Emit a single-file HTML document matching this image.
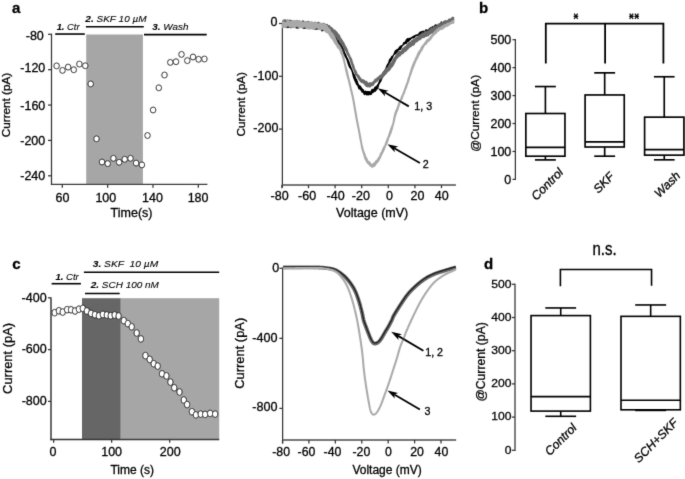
<!DOCTYPE html>
<html><head><meta charset="utf-8"><style>html,body{margin:0;padding:0;background:#fff;width:685px;height:479px;overflow:hidden;position:relative;font-family:'Liberation Sans', sans-serif} svg text{font-family:'Liberation Sans', sans-serif;stroke:#000;stroke-width:0.3px}</style></head>
<body>
<svg width="685" height="479" viewBox="0 0 685 479" style="position:absolute;left:0;top:0;filter:grayscale(1)">
<defs><filter id="sb" filterUnits="userSpaceOnUse" x="0" y="0" width="685" height="479"><feConvolveMatrix order="3" kernelMatrix="0.01134 0.08382 0.01134 0.08382 0.61935 0.08382 0.01134 0.08382 0.01134" edgeMode="duplicate" preserveAlpha="false"/></filter></defs>
<rect width="685" height="479" fill="#fff"/>
<g filter="url(#sb)">
<text transform="translate(11.96,13.26)" font-size="15" font-weight="bold" font-style="normal" xml:space="preserve">a</text>
<rect x="86.20" y="34.50" width="56.70" height="149.80" fill="#a6a6a6"/>
<line x1="51.50" y1="33.70" x2="51.50" y2="185.10" stroke="#333" stroke-width="1.25"/>
<line x1="50.90" y1="184.40" x2="207.40" y2="184.40" stroke="#3a3a3a" stroke-width="1.4"/>
<line x1="48.00" y1="34.30" x2="51.50" y2="34.30" stroke="#333" stroke-width="1.25"/>
<line x1="48.00" y1="69.68" x2="51.50" y2="69.68" stroke="#333" stroke-width="1.25"/>
<line x1="48.00" y1="105.05" x2="51.50" y2="105.05" stroke="#333" stroke-width="1.25"/>
<line x1="48.00" y1="140.43" x2="51.50" y2="140.43" stroke="#333" stroke-width="1.25"/>
<line x1="48.00" y1="175.80" x2="51.50" y2="175.80" stroke="#333" stroke-width="1.25"/>
<text transform="translate(25.72,39.50)" font-size="12.5" font-weight="normal" font-style="normal" xml:space="preserve">-80</text>
<text transform="translate(20.30,72.45)" font-size="12.5" font-weight="normal" font-style="normal" xml:space="preserve">-120</text>
<text transform="translate(20.30,109.90)" font-size="12.5" font-weight="normal" font-style="normal" xml:space="preserve">-160</text>
<text transform="translate(20.25,144.90)" font-size="12.5" font-weight="normal" font-style="normal" xml:space="preserve">-200</text>
<text transform="translate(20.25,180.45)" font-size="12.5" font-weight="normal" font-style="normal" xml:space="preserve">-240</text>
<line x1="62.30" y1="184.40" x2="62.30" y2="187.70" stroke="#333" stroke-width="1.25"/>
<line x1="107.63" y1="184.40" x2="107.63" y2="187.70" stroke="#333" stroke-width="1.25"/>
<line x1="152.96" y1="184.40" x2="152.96" y2="187.70" stroke="#333" stroke-width="1.25"/>
<line x1="198.30" y1="184.40" x2="198.30" y2="187.70" stroke="#333" stroke-width="1.25"/>
<text transform="translate(55.48,201.70)" font-size="12.5" font-weight="normal" font-style="normal" xml:space="preserve">60</text>
<text transform="translate(95.39,201.70)" font-size="12.5" font-weight="normal" font-style="normal" xml:space="preserve">100</text>
<text transform="translate(142.04,201.70)" font-size="12.5" font-weight="normal" font-style="normal" xml:space="preserve">140</text>
<text transform="translate(187.64,201.70)" font-size="12.5" font-weight="normal" font-style="normal" xml:space="preserve">180</text>
<text transform="translate(110.61,217.43)" font-size="12.5" font-weight="normal" font-style="normal" xml:space="preserve">Time(s)</text>
<text transform="translate(10.38,137.20) rotate(-90)" font-size="11.7" font-weight="normal" font-style="normal" xml:space="preserve">Current (pA)</text>
<line x1="55.20" y1="34.05" x2="84.80" y2="34.05" stroke="#000" stroke-width="1.6"/>
<line x1="85.90" y1="26.70" x2="143.80" y2="26.70" stroke="#000" stroke-width="1.6"/>
<line x1="144.00" y1="34.60" x2="206.70" y2="34.60" stroke="#000" stroke-width="1.6"/>
<text transform="translate(56.63,29.59) scale(1.08,1.0)" font-size="8.7" font-weight="normal" font-style="italic" xml:space="preserve" style="stroke-width:0.1px"><tspan font-weight="bold">1.</tspan> Ctr</text>
<text transform="translate(85.36,21.85) scale(1.09,1.0)" font-size="9.2" font-weight="normal" font-style="italic" xml:space="preserve" style="stroke-width:0.1px"><tspan font-weight="bold">2.</tspan> SKF 10 µM</text>
<text transform="translate(152.30,29.70) scale(1.09,1.0)" font-size="9.1" font-weight="normal" font-style="italic" xml:space="preserve" style="stroke-width:0.1px"><tspan font-weight="bold">3.</tspan> Wash</text>
<ellipse cx="56.60" cy="65.90" rx="2.75" ry="2.95" fill="#fff" stroke="#111" stroke-width="0.95"/>
<ellipse cx="62.50" cy="70.40" rx="2.75" ry="2.95" fill="#fff" stroke="#111" stroke-width="0.95"/>
<ellipse cx="68.10" cy="67.10" rx="2.75" ry="2.95" fill="#fff" stroke="#111" stroke-width="0.95"/>
<ellipse cx="73.75" cy="69.75" rx="2.75" ry="2.95" fill="#fff" stroke="#111" stroke-width="0.95"/>
<ellipse cx="79.40" cy="64.10" rx="2.75" ry="2.95" fill="#fff" stroke="#111" stroke-width="0.95"/>
<ellipse cx="85.25" cy="65.75" rx="2.75" ry="2.95" fill="#fff" stroke="#111" stroke-width="0.95"/>
<ellipse cx="90.70" cy="83.90" rx="2.75" ry="2.95" fill="#fff" stroke="#111" stroke-width="0.95"/>
<ellipse cx="96.50" cy="138.80" rx="2.75" ry="2.95" fill="#fff" stroke="#111" stroke-width="0.95"/>
<ellipse cx="102.00" cy="162.00" rx="2.75" ry="2.95" fill="#fff" stroke="#111" stroke-width="0.95"/>
<ellipse cx="107.70" cy="163.60" rx="2.75" ry="2.95" fill="#fff" stroke="#111" stroke-width="0.95"/>
<ellipse cx="113.40" cy="158.30" rx="2.75" ry="2.95" fill="#fff" stroke="#111" stroke-width="0.95"/>
<ellipse cx="119.10" cy="162.30" rx="2.75" ry="2.95" fill="#fff" stroke="#111" stroke-width="0.95"/>
<ellipse cx="124.70" cy="159.30" rx="2.75" ry="2.95" fill="#fff" stroke="#111" stroke-width="0.95"/>
<ellipse cx="130.50" cy="158.30" rx="2.75" ry="2.95" fill="#fff" stroke="#111" stroke-width="0.95"/>
<ellipse cx="136.10" cy="163.10" rx="2.75" ry="2.95" fill="#fff" stroke="#111" stroke-width="0.95"/>
<ellipse cx="141.90" cy="164.90" rx="2.75" ry="2.95" fill="#fff" stroke="#111" stroke-width="0.95"/>
<ellipse cx="147.50" cy="135.50" rx="2.75" ry="2.95" fill="#fff" stroke="#111" stroke-width="0.95"/>
<ellipse cx="153.10" cy="110.00" rx="2.75" ry="2.95" fill="#fff" stroke="#111" stroke-width="0.95"/>
<ellipse cx="158.80" cy="87.80" rx="2.75" ry="2.95" fill="#fff" stroke="#111" stroke-width="0.95"/>
<ellipse cx="164.50" cy="75.00" rx="2.75" ry="2.95" fill="#fff" stroke="#111" stroke-width="0.95"/>
<ellipse cx="170.30" cy="62.40" rx="2.75" ry="2.95" fill="#fff" stroke="#111" stroke-width="0.95"/>
<ellipse cx="176.00" cy="61.70" rx="2.75" ry="2.95" fill="#fff" stroke="#111" stroke-width="0.95"/>
<ellipse cx="181.50" cy="54.40" rx="2.75" ry="2.95" fill="#fff" stroke="#111" stroke-width="0.95"/>
<ellipse cx="187.30" cy="60.60" rx="2.75" ry="2.95" fill="#fff" stroke="#111" stroke-width="0.95"/>
<ellipse cx="193.00" cy="57.00" rx="2.75" ry="2.95" fill="#fff" stroke="#111" stroke-width="0.95"/>
<ellipse cx="198.60" cy="59.30" rx="2.75" ry="2.95" fill="#fff" stroke="#111" stroke-width="0.95"/>
<ellipse cx="204.40" cy="59.00" rx="2.75" ry="2.95" fill="#fff" stroke="#111" stroke-width="0.95"/>
<line x1="282.40" y1="22.90" x2="282.40" y2="187.60" stroke="#333" stroke-width="1.25"/>
<line x1="281.80" y1="185.00" x2="455.90" y2="185.00" stroke="#4a4a4a" stroke-width="1.6"/>
<line x1="279.00" y1="23.50" x2="282.40" y2="23.50" stroke="#333" stroke-width="1.25"/>
<line x1="279.00" y1="76.30" x2="282.40" y2="76.30" stroke="#333" stroke-width="1.25"/>
<line x1="279.00" y1="129.10" x2="282.40" y2="129.10" stroke="#333" stroke-width="1.25"/>
<text transform="translate(270.62,25.60)" font-size="12.5" font-weight="normal" font-style="normal" xml:space="preserve">0</text>
<text transform="translate(253.35,80.05)" font-size="12.5" font-weight="normal" font-style="normal" xml:space="preserve">-100</text>
<text transform="translate(253.35,132.05)" font-size="12.5" font-weight="normal" font-style="normal" xml:space="preserve">-200</text>
<line x1="281.90" y1="185.00" x2="281.90" y2="188.20" stroke="#333" stroke-width="1.25"/>
<line x1="308.50" y1="185.00" x2="308.50" y2="188.20" stroke="#333" stroke-width="1.25"/>
<line x1="335.10" y1="185.00" x2="335.10" y2="188.20" stroke="#333" stroke-width="1.25"/>
<line x1="361.70" y1="185.00" x2="361.70" y2="188.20" stroke="#333" stroke-width="1.25"/>
<line x1="388.30" y1="185.00" x2="388.30" y2="188.20" stroke="#333" stroke-width="1.25"/>
<line x1="414.90" y1="185.00" x2="414.90" y2="188.20" stroke="#333" stroke-width="1.25"/>
<line x1="441.50" y1="185.00" x2="441.50" y2="188.20" stroke="#333" stroke-width="1.25"/>
<text transform="translate(270.62,200.30)" font-size="12.5" font-weight="normal" font-style="normal" xml:space="preserve">-80</text>
<text transform="translate(298.12,200.30)" font-size="12.5" font-weight="normal" font-style="normal" xml:space="preserve">-60</text>
<text transform="translate(326.52,200.30)" font-size="12.5" font-weight="normal" font-style="normal" xml:space="preserve">-40</text>
<text transform="translate(351.77,200.30)" font-size="12.5" font-weight="normal" font-style="normal" xml:space="preserve">-20</text>
<text transform="translate(386.07,200.30)" font-size="12.5" font-weight="normal" font-style="normal" xml:space="preserve">0</text>
<text transform="translate(410.43,200.30)" font-size="12.5" font-weight="normal" font-style="normal" xml:space="preserve">20</text>
<text transform="translate(434.71,200.30)" font-size="12.5" font-weight="normal" font-style="normal" xml:space="preserve">40</text>
<text transform="translate(336.03,216.68)" font-size="12.5" font-weight="normal" font-style="normal" xml:space="preserve">Voltage (mV)</text>
<text transform="translate(245.23,136.40) rotate(-90)" font-size="11.7" font-weight="normal" font-style="normal" xml:space="preserve">Current (pA)</text>
<path d="M283.00,21.19 L283.40,21.74 L283.80,22.29 L284.20,22.57 L284.60,22.07 L285.00,21.57 L285.40,21.62 L285.80,22.22 L286.20,22.82 L286.60,22.74 L287.00,22.42 L287.40,22.10 L287.80,22.23 L288.20,22.36 L288.60,22.49 L289.00,22.64 L289.40,22.79 L289.80,22.77 L290.20,22.60 L290.60,22.42 L291.00,22.26 L291.40,22.11 L291.80,21.95 L292.20,21.89 L292.60,21.82 L293.00,21.75 L293.40,21.69 L293.80,21.62 L294.20,21.86 L294.60,22.41 L295.00,22.95 L295.40,22.92 L295.80,22.71 L296.20,22.49 L296.60,22.28 L297.00,22.07 L297.40,22.07 L297.80,22.66 L298.20,23.26 L298.60,23.32 L299.00,22.86 L299.40,22.39 L299.80,22.38 L300.20,22.51 L300.60,22.64 L301.00,22.56 L301.40,22.49 L301.80,22.50 L302.20,22.78 L302.60,23.07 L303.00,23.20 L303.40,23.18 L303.80,23.15 L304.20,23.17 L304.60,23.21 L305.00,23.24 L305.40,22.99 L305.80,22.74 L306.20,22.56 L306.60,22.60 L307.00,22.63 L307.40,22.65 L307.80,22.65 L308.20,22.64 L308.60,22.71 L309.00,22.79 L309.40,22.88 L309.80,22.76 L310.20,22.64 L310.60,22.57 L311.00,22.61 L311.40,22.66 L311.80,23.02 L312.20,23.69 L312.60,24.36 L313.00,24.55 L313.40,24.57 L313.80,24.60 L314.20,24.02 L314.60,23.44 L315.00,22.98 L315.40,22.88 L315.80,22.79 L316.20,22.84 L316.60,23.02 L317.00,23.21 L317.40,23.59 L317.80,24.03 L318.20,24.48 L318.60,24.59 L319.00,24.71 L319.40,24.67 L319.80,24.13 L320.20,23.59 L320.60,23.57 L321.00,24.08 L321.40,24.59 L321.80,24.43 L322.20,24.03 L322.60,23.64 L323.00,24.13 L323.40,24.62 L323.80,25.03 L324.20,25.21 L324.60,25.41 L325.00,25.69 L325.40,26.07 L325.80,26.46 L326.20,26.21 L326.60,25.77 L327.00,25.33 L327.40,25.93 L327.80,26.54 L328.20,27.08 L328.60,27.36 L329.00,27.67 L329.40,27.99 L329.80,28.33 L330.20,28.72 L330.60,28.55 L331.00,28.22 L331.40,27.92 L331.80,28.75 L332.20,29.60 L332.60,30.47 L333.00,31.36 L333.40,32.28 L333.80,32.81 L334.20,32.93 L334.60,33.10 L335.00,33.90 L335.40,34.93 L335.80,35.97 L336.20,36.47 L336.60,36.96 L337.00,37.54 L337.40,38.42 L337.80,39.31 L338.20,40.00 L338.60,40.50 L339.00,41.01 L339.40,41.41 L339.80,41.80 L340.20,42.18 L340.60,42.99 L341.00,43.80 L341.40,44.61 L341.80,45.40 L342.20,46.20 L342.60,47.06 L343.00,47.96 L343.40,48.88 L343.80,50.16 L344.20,51.56 L344.60,52.97 L345.00,53.56 L345.40,54.16 L345.80,54.88 L346.20,55.92 L346.60,56.97 L347.00,57.86 L347.40,58.58 L347.80,59.30 L348.20,60.22 L348.60,61.21 L349.00,62.20 L349.40,63.28 L349.80,64.36 L350.20,65.43 L350.60,66.46 L351.00,67.51 L351.40,68.53 L351.80,69.52 L352.20,70.52 L352.60,71.53 L353.00,72.55 L353.40,73.59 L353.80,74.10 L354.20,74.60 L354.60,75.26 L355.00,76.47 L355.40,77.64 L355.80,78.56 L356.20,79.21 L356.60,79.83 L357.00,80.92 L357.40,82.14 L357.80,83.33 L358.20,84.26 L358.60,85.16 L359.00,85.81 L359.40,85.84 L359.80,85.83 L360.20,86.14 L360.60,86.78 L361.00,87.39 L361.40,87.99 L361.80,88.58 L362.20,89.15 L362.60,89.44 L363.00,89.69 L363.40,90.05 L363.80,90.77 L364.20,91.44 L364.60,91.67 L365.00,91.45 L365.40,91.20 L365.80,91.35 L366.20,91.63 L366.60,91.89 L367.00,91.79 L367.40,91.67 L367.80,91.58 L368.20,91.61 L368.60,91.62 L369.00,91.71 L369.40,91.89 L369.80,92.06 L370.20,92.00 L370.60,91.86 L371.00,91.70 L371.40,90.85 L371.80,89.98 L372.20,89.40 L372.60,89.74 L373.00,90.06 L373.40,89.89 L373.80,89.22 L374.20,88.55 L374.60,88.02 L375.00,87.52 L375.40,86.99 L375.80,86.85 L376.20,86.66 L376.60,86.37 L377.00,85.88 L377.40,85.29 L377.80,84.74 L378.20,84.24 L378.60,83.72 L379.00,82.58 L379.40,81.29 L379.80,80.04 L380.20,78.97 L380.60,77.91 L381.00,77.09 L381.40,76.98 L381.80,76.86 L382.20,76.09 L382.60,74.66 L383.00,73.22 L383.40,72.43 L383.80,71.86 L384.20,71.29 L384.60,70.71 L385.00,70.15 L385.40,69.93 L385.80,68.78 L386.20,67.62 L386.60,66.58 L387.00,65.65 L387.40,64.73 L387.80,64.10 L388.20,63.58 L388.60,63.08 L389.00,61.69 L389.40,60.32 L389.80,59.24 L390.20,58.97 L390.60,58.71 L391.00,58.20 L391.40,57.41 L391.80,56.64 L392.20,56.33 L392.60,56.18 L393.00,56.06 L393.40,55.34 L393.80,54.64 L394.20,53.85 L394.60,52.74 L395.00,51.66 L395.40,50.94 L395.80,50.60 L396.20,50.26 L396.60,50.01 L397.00,49.79 L397.40,49.57 L397.80,49.37 L398.20,49.19 L398.60,48.88 L399.00,48.20 L399.40,47.50 L399.80,46.95 L400.20,46.55 L400.60,46.12 L401.00,46.01 L401.40,45.99 L401.80,45.97 L402.20,45.53 L402.60,45.09 L403.00,44.55 L403.40,43.67 L403.80,42.80 L404.20,42.37 L404.60,42.36 L405.00,42.38 L405.40,41.78 L405.80,40.97 L406.20,40.17 L406.60,39.63 L407.00,39.10 L407.40,38.72 L407.80,38.77 L408.20,38.82 L408.60,38.76 L409.00,38.59 L409.40,38.42 L409.80,38.33 L410.20,38.26 L410.60,38.20 L411.00,38.02 L411.40,37.86 L411.80,37.64 L412.20,37.28 L412.60,36.93 L413.00,36.65 L413.40,36.46 L413.80,36.27 L414.20,36.06 L414.60,35.84 L415.00,35.63 L415.40,35.45 L415.80,35.28 L416.20,35.12 L416.60,35.01 L417.00,34.89 L417.40,34.84 L417.80,34.84 L418.20,34.84 L418.60,34.35 L419.00,33.70 L419.40,33.05 L419.80,32.65 L420.20,32.25 L420.60,31.95 L421.00,31.91 L421.40,31.88 L421.80,31.77 L422.20,31.60 L422.60,31.43 L423.00,31.36 L423.40,31.31 L423.80,31.27 L424.20,31.47 L424.60,31.67 L425.00,31.63 L425.40,30.88 L425.80,30.12 L426.20,29.83 L426.60,29.99 L427.00,30.16 L427.40,30.31 L427.80,30.45 L428.20,30.58 L428.60,29.98 L429.00,29.37 L429.40,28.83 L429.80,28.48 L430.20,28.12 L430.60,27.89 L431.00,27.81 L431.40,27.72 L431.80,27.42 L432.20,27.04 L432.60,26.66 L433.00,26.98 L433.40,27.31 L433.80,27.36 L434.20,26.61 L434.60,25.86 L435.00,25.38 L435.40,25.18 L435.80,24.98 L436.20,25.13 L436.60,25.40 L437.00,25.68 L437.40,25.46 L437.80,25.24 L438.20,24.99 L438.60,24.61 L439.00,24.24 L439.40,24.10 L439.80,24.18 L440.20,24.26 L440.60,23.64 L441.00,22.79 L441.40,21.94 L441.80,22.51 L442.20,23.07 L442.60,23.38 L443.00,22.92 L443.40,22.45 L443.80,22.03 L444.20,21.67 L444.60,21.31 L445.00,21.42 L445.40,21.70 L445.80,21.97 L446.20,21.70 L446.60,21.42 L447.00,21.25 L447.40,21.37 L447.80,21.49 L448.20,21.14 L448.60,20.30 L449.00,19.46 L449.40,19.44 L449.80,19.69 L450.20,19.94 L450.60,19.72 L451.00,19.51 L451.40,19.35 L451.80,19.36 L452.20,19.38 L452.60,19.16 L453.00,18.70 L453.40,18.25 L453.40,19.71 L453.00,20.61 L452.60,21.50 L452.20,21.91 L451.80,21.82 L451.40,21.73 L451.00,21.39 L450.60,20.95 L450.20,20.52 L449.80,20.81 L449.40,21.10 L449.00,21.38 L448.60,21.62 L448.20,21.85 L447.80,22.04 L447.40,22.20 L447.00,22.35 L446.60,22.48 L446.20,22.60 L445.80,22.72 L445.40,23.06 L445.00,23.39 L444.60,23.64 L444.20,23.67 L443.80,23.70 L443.40,23.62 L443.00,23.43 L442.60,23.24 L442.20,23.88 L441.80,24.80 L441.40,25.73 L441.00,25.86 L440.60,26.00 L440.20,26.05 L439.80,25.83 L439.40,25.62 L439.00,25.80 L438.60,26.38 L438.20,26.96 L437.80,26.94 L437.40,26.71 L437.00,26.49 L436.60,26.52 L436.20,26.56 L435.80,26.78 L435.40,27.57 L435.00,28.35 L434.60,28.81 L434.20,28.96 L433.80,29.11 L433.40,29.43 L433.00,29.80 L432.60,30.17 L432.20,29.77 L431.80,29.37 L431.40,29.13 L431.00,29.39 L430.60,29.64 L430.20,29.94 L429.80,30.31 L429.40,30.66 L429.00,30.73 L428.60,30.69 L428.20,30.65 L427.80,31.14 L427.40,31.63 L427.00,32.03 L426.60,32.17 L426.20,32.32 L425.80,32.62 L425.40,33.06 L425.00,33.51 L424.60,33.52 L424.20,33.38 L423.80,33.23 L423.40,33.10 L423.00,32.98 L422.60,32.97 L422.20,33.32 L421.80,33.68 L421.40,33.89 L421.00,33.95 L420.60,34.01 L420.20,34.25 L419.80,34.55 L419.40,34.85 L419.00,35.26 L418.60,35.66 L418.20,35.92 L417.80,35.72 L417.40,35.52 L417.00,35.47 L416.60,35.58 L416.20,35.68 L415.80,35.86 L415.40,36.06 L415.00,36.26 L414.60,36.91 L414.20,37.57 L413.80,38.02 L413.40,37.86 L413.00,37.71 L412.60,37.71 L412.20,37.87 L411.80,38.04 L411.40,38.35 L411.00,38.71 L410.60,39.08 L410.20,39.47 L409.80,39.87 L409.40,40.29 L409.00,40.74 L408.60,41.21 L408.20,41.47 L407.80,41.53 L407.40,41.61 L407.00,42.11 L406.60,42.76 L406.20,43.42 L405.80,43.43 L405.40,43.45 L405.00,43.53 L404.60,43.79 L404.20,44.07 L403.80,44.37 L403.40,44.69 L403.00,45.03 L402.60,45.44 L402.20,45.87 L401.80,46.31 L401.40,47.32 L401.00,48.33 L400.60,49.14 L400.20,49.34 L399.80,49.53 L399.40,49.64 L399.00,49.68 L398.60,49.72 L398.20,50.38 L397.80,51.26 L397.40,52.15 L397.00,52.49 L396.60,52.85 L396.20,53.20 L395.80,53.51 L395.40,53.84 L395.00,54.03 L394.60,54.09 L394.20,54.17 L393.80,54.74 L393.40,55.50 L393.00,56.27 L392.60,57.22 L392.20,58.18 L391.80,59.11 L391.40,59.89 L391.00,60.69 L390.60,61.33 L390.20,61.82 L389.80,62.33 L389.40,62.97 L389.00,63.67 L388.60,64.39 L388.20,65.38 L387.80,66.40 L387.40,67.27 L387.00,67.63 L386.60,68.00 L386.20,68.70 L385.80,69.71 L385.40,70.72 L385.00,72.40 L384.60,73.64 L384.20,74.89 L383.80,75.24 L383.40,75.60 L383.00,76.06 L382.60,76.84 L382.20,77.61 L381.80,78.51 L381.40,79.56 L381.00,80.59 L380.60,81.31 L380.20,81.92 L379.80,82.54 L379.40,83.20 L379.00,83.90 L378.60,84.83 L378.20,86.28 L377.80,87.71 L377.40,88.58 L377.00,88.87 L376.60,89.06 L376.20,89.71 L375.80,90.48 L375.40,91.21 L375.00,91.21 L374.60,91.19 L374.20,91.27 L373.80,91.67 L373.40,92.06 L373.00,92.35 L372.60,92.52 L372.20,92.67 L371.80,93.22 L371.40,93.89 L371.00,94.53 L370.60,94.41 L370.20,94.27 L369.80,94.22 L369.40,94.47 L369.00,94.71 L368.60,94.79 L368.20,94.70 L367.80,94.60 L367.40,94.68 L367.00,94.80 L366.60,94.91 L366.20,94.42 L365.80,93.91 L365.40,93.63 L365.00,94.07 L364.60,94.48 L364.20,94.23 L363.80,93.32 L363.40,92.37 L363.00,92.13 L362.60,92.10 L362.20,92.04 L361.80,91.42 L361.40,90.77 L361.00,90.15 L360.60,89.68 L360.20,89.18 L359.80,88.89 L359.40,88.80 L359.00,88.67 L358.60,87.74 L358.20,86.51 L357.80,85.24 L357.40,84.96 L357.00,84.64 L356.60,84.16 L356.20,83.27 L355.80,82.35 L355.40,81.47 L355.00,80.64 L354.60,79.77 L354.20,78.77 L353.80,77.70 L353.40,76.62 L353.00,74.87 L352.60,73.13 L352.20,71.59 L351.80,70.62 L351.40,69.67 L351.00,68.95 L350.60,68.46 L350.20,67.99 L349.80,67.32 L349.40,66.58 L349.00,65.85 L348.60,64.67 L348.20,63.50 L347.80,62.30 L347.40,61.03 L347.00,59.76 L346.60,58.83 L346.20,58.23 L345.80,57.64 L345.40,56.94 L345.00,56.21 L344.60,55.49 L344.20,54.57 L343.80,53.65 L343.40,52.83 L343.00,52.24 L342.60,51.66 L342.20,51.06 L341.80,50.44 L341.40,49.83 L341.00,48.69 L340.60,47.37 L340.20,46.05 L339.80,45.71 L339.40,45.36 L339.00,44.97 L338.60,44.39 L338.20,43.81 L337.80,43.11 L337.40,42.28 L337.00,41.47 L336.60,40.62 L336.20,39.76 L335.80,38.88 L335.40,38.15 L335.00,37.43 L334.60,36.71 L334.20,35.93 L333.80,35.20 L333.40,34.63 L333.00,34.24 L332.60,33.87 L332.20,33.34 L331.80,32.78 L331.40,32.23 L331.00,32.10 L330.60,31.99 L330.20,31.79 L329.80,31.25 L329.40,30.72 L329.00,30.40 L328.60,30.29 L328.20,30.21 L327.80,30.08 L327.40,29.95 L327.00,29.84 L326.60,29.93 L326.20,30.04 L325.80,30.13 L325.40,30.15 L325.00,30.19 L324.60,29.99 L324.20,29.56 L323.80,29.14 L323.40,29.12 L323.00,29.24 L322.60,29.37 L322.20,29.29 L321.80,29.20 L321.40,29.13 L321.00,29.09 L320.60,29.04 L320.20,29.03 L319.80,29.06 L319.40,29.08 L319.00,28.99 L318.60,28.87 L318.20,28.75 L317.80,28.63 L317.40,28.50 L317.00,28.40 L316.60,28.37 L316.20,28.34 L315.80,28.48 L315.40,28.79 L315.00,29.10 L314.60,28.92 L314.20,28.56 L313.80,28.21 L313.40,28.24 L313.00,28.27 L312.60,28.22 L312.20,27.90 L311.80,27.58 L311.40,27.33 L311.00,27.16 L310.60,26.98 L310.20,27.01 L309.80,27.12 L309.40,27.22 L309.00,27.06 L308.60,26.90 L308.20,26.80 L307.80,26.88 L307.40,26.97 L307.00,27.11 L306.60,27.31 L306.20,27.51 L305.80,27.51 L305.40,27.44 L305.00,27.37 L304.60,27.26 L304.20,27.16 L303.80,27.06 L303.40,27.01 L303.00,26.95 L302.60,26.96 L302.20,27.03 L301.80,27.09 L301.40,27.10 L301.00,27.08 L300.60,27.07 L300.20,26.88 L299.80,26.70 L299.40,26.71 L299.00,27.31 L298.60,27.91 L298.20,28.10 L297.80,27.89 L297.40,27.68 L297.00,27.61 L296.60,27.59 L296.20,27.56 L295.80,27.43 L295.40,27.29 L295.00,27.11 L294.60,26.78 L294.20,26.44 L293.80,26.38 L293.40,26.59 L293.00,26.80 L292.60,27.01 L292.20,27.22 L291.80,27.44 L291.40,27.55 L291.00,27.67 L290.60,27.66 L290.20,27.29 L289.80,26.92 L289.40,26.77 L289.00,26.82 L288.60,26.88 L288.20,26.75 L287.80,26.55 L287.40,26.35 L287.00,26.36 L286.60,26.36 L286.20,26.44 L285.80,26.76 L285.40,27.07 L285.00,27.00 L284.60,26.55 L284.20,26.10 L283.80,26.07 L283.40,26.18 L283.00,26.30 Z" fill="#000" stroke="#000" stroke-width="1.3" stroke-linejoin="round"/>
<path d="M283.00,20.98 L283.40,20.63 L283.80,20.29 L284.20,20.03 L284.60,20.06 L285.00,20.09 L285.40,20.25 L285.80,20.54 L286.20,20.84 L286.60,20.70 L287.00,20.43 L287.40,20.15 L287.80,20.28 L288.20,20.41 L288.60,20.50 L289.00,20.49 L289.40,20.49 L289.80,20.72 L290.20,21.18 L290.60,21.65 L291.00,21.53 L291.40,21.22 L291.80,20.91 L292.20,20.80 L292.60,20.69 L293.00,20.73 L293.40,21.17 L293.80,21.62 L294.20,21.86 L294.60,21.89 L295.00,21.93 L295.40,21.84 L295.80,21.69 L296.20,21.55 L296.60,21.19 L297.00,20.84 L297.40,20.70 L297.80,21.21 L298.20,21.73 L298.60,21.86 L299.00,21.59 L299.40,21.32 L299.80,21.45 L300.20,21.70 L300.60,21.96 L301.00,21.95 L301.40,21.94 L301.80,21.94 L302.20,21.93 L302.60,21.92 L303.00,21.98 L303.40,22.09 L303.80,22.21 L304.20,22.29 L304.60,22.36 L305.00,22.43 L305.40,22.24 L305.80,22.06 L306.20,21.93 L306.60,21.99 L307.00,22.05 L307.40,21.97 L307.80,21.76 L308.20,21.55 L308.60,21.67 L309.00,21.89 L309.40,22.11 L309.80,22.48 L310.20,22.86 L310.60,23.04 L311.00,22.64 L311.40,22.24 L311.80,22.23 L312.20,22.61 L312.60,22.99 L313.00,23.14 L313.40,23.21 L313.80,23.28 L314.20,22.91 L314.60,22.55 L315.00,22.37 L315.40,22.78 L315.80,23.19 L316.20,23.37 L316.60,23.34 L317.00,23.31 L317.40,23.49 L317.80,23.75 L318.20,24.00 L318.60,23.67 L319.00,23.34 L319.40,23.16 L319.80,23.47 L320.20,23.78 L320.60,23.99 L321.00,24.12 L321.40,24.25 L321.80,24.11 L322.20,23.89 L322.60,23.66 L323.00,23.64 L323.40,23.63 L323.80,23.67 L324.20,23.85 L324.60,24.05 L325.00,24.29 L325.40,24.58 L325.80,24.88 L326.20,24.85 L326.60,24.71 L327.00,24.59 L327.40,25.12 L327.80,25.67 L328.20,26.04 L328.60,25.87 L329.00,25.72 L329.40,25.95 L329.80,26.56 L330.20,27.21 L330.60,27.46 L331.00,27.57 L331.40,27.67 L331.80,28.15 L332.20,28.59 L332.60,29.02 L333.00,29.53 L333.40,30.03 L333.80,30.28 L334.20,30.29 L334.60,30.34 L335.00,30.68 L335.40,31.15 L335.80,31.68 L336.20,31.97 L336.60,32.30 L337.00,32.72 L337.40,33.37 L337.80,34.03 L338.20,34.53 L338.60,34.87 L339.00,35.22 L339.40,36.00 L339.80,36.92 L340.20,37.85 L340.60,38.45 L341.00,39.06 L341.40,39.67 L341.80,40.25 L342.20,40.84 L342.60,41.45 L343.00,42.07 L343.40,42.70 L343.80,43.48 L344.20,44.30 L344.60,45.13 L345.00,45.83 L345.40,46.53 L345.80,47.27 L346.20,48.07 L346.60,48.88 L347.00,49.84 L347.40,50.94 L347.80,52.05 L348.20,53.00 L348.60,53.89 L349.00,54.81 L349.40,55.69 L349.80,56.59 L350.20,57.31 L350.60,57.90 L351.00,58.52 L351.40,59.52 L351.80,60.90 L352.20,62.35 L352.60,63.44 L353.00,64.42 L353.40,65.38 L353.80,66.78 L354.20,68.24 L354.60,69.48 L355.00,70.01 L355.40,70.39 L355.80,71.14 L356.20,72.28 L356.60,73.36 L357.00,73.99 L357.40,74.45 L357.80,74.89 L358.20,75.37 L358.60,75.82 L359.00,76.30 L359.40,76.91 L359.80,77.50 L360.20,78.01 L360.60,78.46 L361.00,78.89 L361.40,79.27 L361.80,79.62 L362.20,79.95 L362.60,79.96 L363.00,79.95 L363.40,80.02 L363.80,80.33 L364.20,80.64 L364.60,80.99 L365.00,81.40 L365.40,81.80 L365.80,81.82 L366.20,81.70 L366.60,81.57 L367.00,82.29 L367.40,82.97 L367.80,83.47 L368.20,83.43 L368.60,83.36 L369.00,83.28 L369.40,83.19 L369.80,83.06 L370.20,83.05 L370.60,83.06 L371.00,83.05 L371.40,83.08 L371.80,83.08 L372.20,82.97 L372.60,82.61 L373.00,82.23 L373.40,81.84 L373.80,81.44 L374.20,81.04 L374.60,80.48 L375.00,79.87 L375.40,79.24 L375.80,79.39 L376.20,79.54 L376.60,79.46 L377.00,78.71 L377.40,77.97 L377.80,77.59 L378.20,77.57 L378.60,77.56 L379.00,77.10 L379.40,76.49 L379.80,75.89 L380.20,75.66 L380.60,75.43 L381.00,75.21 L381.40,75.01 L381.80,74.80 L382.20,74.25 L382.60,73.38 L383.00,72.52 L383.40,72.18 L383.80,72.01 L384.20,71.83 L384.60,71.39 L385.00,70.93 L385.40,70.04 L385.80,69.52 L386.20,68.98 L386.60,68.57 L387.00,68.28 L387.40,67.98 L387.80,67.81 L388.20,67.68 L388.60,67.55 L389.00,66.60 L389.40,65.64 L389.80,64.76 L390.20,64.13 L390.60,63.49 L391.00,63.16 L391.40,63.14 L391.80,63.11 L392.20,62.43 L392.60,61.50 L393.00,60.55 L393.40,59.86 L393.80,59.15 L394.20,58.48 L394.60,57.93 L395.00,57.40 L395.40,56.86 L395.80,56.32 L396.20,55.82 L396.60,55.01 L397.00,54.13 L397.40,53.30 L397.80,52.87 L398.20,52.48 L398.60,52.14 L399.00,51.95 L399.40,51.77 L399.80,51.67 L400.20,51.63 L400.60,51.59 L401.00,51.38 L401.40,51.09 L401.80,50.78 L402.20,49.92 L402.60,49.06 L403.00,48.40 L403.40,48.34 L403.80,48.28 L404.20,47.98 L404.60,47.43 L405.00,46.89 L405.40,46.69 L405.80,46.60 L406.20,46.52 L406.60,45.79 L407.00,45.06 L407.40,44.44 L407.80,44.10 L408.20,43.77 L408.60,43.37 L409.00,42.91 L409.40,42.45 L409.80,42.53 L410.20,42.80 L410.60,43.06 L411.00,42.31 L411.40,41.55 L411.80,40.94 L412.20,40.73 L412.60,40.52 L413.00,40.27 L413.40,39.98 L413.80,39.68 L414.20,39.73 L414.60,39.90 L415.00,40.06 L415.40,39.23 L415.80,38.39 L416.20,37.73 L416.60,37.61 L417.00,37.48 L417.40,37.39 L417.80,37.32 L418.20,37.25 L418.60,36.77 L419.00,36.15 L419.40,35.53 L419.80,35.52 L420.20,35.51 L420.60,35.42 L421.00,35.05 L421.40,34.69 L421.80,34.25 L422.20,33.74 L422.60,33.23 L423.00,33.23 L423.40,33.39 L423.80,33.56 L424.20,33.18 L424.60,32.80 L425.00,32.44 L425.40,32.15 L425.80,31.85 L426.20,31.86 L426.60,32.15 L427.00,32.45 L427.40,32.30 L427.80,32.01 L428.20,31.71 L428.60,31.24 L429.00,30.77 L429.40,30.33 L429.80,30.01 L430.20,29.69 L430.60,29.29 L431.00,28.84 L431.40,28.37 L431.80,28.41 L432.20,28.61 L432.60,28.82 L433.00,28.25 L433.40,27.70 L433.80,27.27 L434.20,27.19 L434.60,27.13 L435.00,27.03 L435.40,26.90 L435.80,26.77 L436.20,26.65 L436.60,26.54 L437.00,26.43 L437.40,25.84 L437.80,25.26 L438.20,24.77 L438.60,24.53 L439.00,24.29 L439.40,24.29 L439.80,24.54 L440.20,24.78 L440.60,24.33 L441.00,23.64 L441.40,22.96 L441.80,22.97 L442.20,22.99 L442.60,22.89 L443.00,22.43 L443.40,21.97 L443.80,21.69 L444.20,21.59 L444.60,21.49 L445.00,21.30 L445.40,21.07 L445.80,20.85 L446.20,21.07 L446.60,21.29 L447.00,21.40 L447.40,21.13 L447.80,20.87 L448.20,20.48 L448.60,19.96 L449.00,19.45 L449.40,19.34 L449.80,19.37 L450.20,19.41 L450.60,19.16 L451.00,18.91 L451.40,18.61 L451.80,18.16 L452.20,17.71 L452.60,17.48 L453.00,17.46 L453.40,17.45 L453.40,21.52 L453.00,21.37 L452.60,21.22 L452.20,21.30 L451.80,21.62 L451.40,21.94 L451.00,22.36 L450.60,22.81 L450.20,23.26 L449.80,23.64 L449.40,24.02 L449.00,24.31 L448.60,24.35 L448.20,24.39 L447.80,24.60 L447.40,24.96 L447.00,25.33 L446.60,25.19 L446.20,24.89 L445.80,24.59 L445.40,24.78 L445.00,24.96 L444.60,25.16 L444.20,25.40 L443.80,25.64 L443.40,25.97 L443.00,26.37 L442.60,26.78 L442.20,27.05 L441.80,27.27 L441.40,27.48 L441.00,27.81 L440.60,28.13 L440.20,28.45 L439.80,28.75 L439.40,29.05 L439.00,29.25 L438.60,29.34 L438.20,29.43 L437.80,29.63 L437.40,29.87 L437.00,30.10 L436.60,30.08 L436.20,30.06 L435.80,30.15 L435.40,30.56 L435.00,30.98 L434.60,31.18 L434.20,31.14 L433.80,31.11 L433.40,31.62 L433.00,32.31 L432.60,33.01 L432.20,32.84 L431.80,32.67 L431.40,32.65 L431.00,33.08 L430.60,33.51 L430.20,33.76 L429.80,33.84 L429.40,33.92 L429.00,34.40 L428.60,35.01 L428.20,35.62 L427.80,35.51 L427.40,35.40 L427.00,35.42 L426.60,35.81 L426.20,36.19 L425.80,36.34 L425.40,36.24 L425.00,36.14 L424.60,36.47 L424.20,36.94 L423.80,37.41 L423.40,37.24 L423.00,37.08 L422.60,37.04 L422.20,37.36 L421.80,37.70 L421.40,38.07 L421.00,38.50 L420.60,38.93 L420.20,39.21 L419.80,39.44 L419.40,39.68 L419.00,39.74 L418.60,39.81 L418.20,40.00 L417.80,40.55 L417.40,41.11 L417.00,41.45 L416.60,41.56 L416.20,41.68 L415.80,41.87 L415.40,42.09 L415.00,42.30 L414.60,43.17 L414.20,44.03 L413.80,44.71 L413.40,44.85 L413.00,44.98 L412.60,45.09 L412.20,45.19 L411.80,45.29 L411.40,45.65 L411.00,46.10 L410.60,46.55 L410.20,46.62 L409.80,46.68 L409.40,46.85 L409.00,47.32 L408.60,47.80 L408.20,48.30 L407.80,48.81 L407.40,49.33 L407.00,49.64 L406.60,49.89 L406.20,50.15 L405.80,50.63 L405.40,51.12 L405.00,51.45 L404.60,51.33 L404.20,51.20 L403.80,51.58 L403.40,52.45 L403.00,53.33 L402.60,53.42 L402.20,53.24 L401.80,53.06 L401.40,53.64 L401.00,54.21 L400.60,54.76 L400.20,55.29 L399.80,55.82 L399.40,56.01 L399.00,55.86 L398.60,55.72 L398.20,56.29 L397.80,57.10 L397.40,57.94 L397.00,57.94 L396.60,57.99 L396.20,58.32 L395.80,59.40 L395.40,60.53 L395.00,61.43 L394.60,62.10 L394.20,62.79 L393.80,63.56 L393.40,64.36 L393.00,65.15 L392.60,65.77 L392.20,66.37 L391.80,66.88 L391.40,67.18 L391.00,67.48 L390.60,68.01 L390.20,68.79 L389.80,69.56 L389.40,69.98 L389.00,70.28 L388.60,70.58 L388.20,70.91 L387.80,71.24 L387.40,71.59 L387.00,72.03 L386.60,72.45 L386.20,72.97 L385.80,73.58 L385.40,74.17 L385.00,74.19 L384.60,74.54 L384.20,74.87 L383.80,75.46 L383.40,76.03 L383.00,76.50 L382.60,76.68 L382.20,76.87 L381.80,77.20 L381.40,77.65 L381.00,78.09 L380.60,78.42 L380.20,78.70 L379.80,78.98 L379.40,79.07 L379.00,79.17 L378.60,79.33 L378.20,79.71 L377.80,80.09 L377.40,80.50 L377.00,80.93 L376.60,81.36 L376.20,81.62 L375.80,81.82 L375.40,82.01 L375.00,82.29 L374.60,82.56 L374.20,82.96 L373.80,83.77 L373.40,84.57 L373.00,85.06 L372.60,85.25 L372.20,85.41 L371.80,85.45 L371.40,85.42 L371.00,85.35 L370.60,85.94 L370.20,86.50 L369.80,86.85 L369.40,86.59 L369.00,86.30 L368.60,86.25 L368.20,86.44 L367.80,86.60 L367.40,86.54 L367.00,86.38 L366.60,86.21 L366.20,85.84 L365.80,85.45 L365.40,85.03 L365.00,84.54 L364.60,84.03 L364.20,83.54 L363.80,83.07 L363.40,82.58 L363.00,82.47 L362.60,82.48 L362.20,82.48 L361.80,82.24 L361.40,81.98 L361.00,81.67 L360.60,81.21 L360.20,80.73 L359.80,80.23 L359.40,79.69 L359.00,79.14 L358.60,78.47 L358.20,77.76 L357.80,77.01 L357.40,76.45 L357.00,75.86 L356.60,75.32 L356.20,74.96 L355.80,74.53 L355.40,73.74 L355.00,72.53 L354.60,71.17 L354.20,70.23 L353.80,69.45 L353.40,68.71 L353.00,67.43 L352.60,66.12 L352.20,64.87 L351.80,63.85 L351.40,62.89 L351.00,61.77 L350.60,60.49 L350.20,59.23 L349.80,58.20 L349.40,57.39 L349.00,56.60 L348.60,55.85 L348.20,55.12 L347.80,54.39 L347.40,53.61 L347.00,52.84 L346.60,52.05 L346.20,51.23 L345.80,50.42 L345.40,49.99 L345.00,49.70 L344.60,49.42 L344.20,48.32 L343.80,47.23 L343.40,46.28 L343.00,45.75 L342.60,45.23 L342.20,44.60 L341.80,43.86 L341.40,43.13 L341.00,42.75 L340.60,42.49 L340.20,42.25 L339.80,41.20 L339.40,40.15 L339.00,39.36 L338.60,39.34 L338.20,39.34 L337.80,38.88 L337.40,37.97 L337.00,37.08 L336.60,36.75 L336.20,36.64 L335.80,36.55 L335.40,35.76 L335.00,35.02 L334.60,34.54 L334.20,34.77 L333.80,35.02 L333.40,34.99 L333.00,34.68 L332.60,34.35 L332.20,33.81 L331.80,33.17 L331.40,32.48 L331.00,32.48 L330.60,32.46 L330.20,32.29 L329.80,31.64 L329.40,31.01 L329.00,30.84 L328.60,31.12 L328.20,31.43 L327.80,31.24 L327.40,30.89 L327.00,30.55 L326.60,29.97 L326.20,29.41 L325.80,29.06 L325.40,29.39 L325.00,29.73 L324.60,29.88 L324.20,29.83 L323.80,29.79 L323.40,29.68 L323.00,29.56 L322.60,29.44 L322.20,29.19 L321.80,28.94 L321.40,28.67 L321.00,28.38 L320.60,28.09 L320.20,28.05 L319.80,28.26 L319.40,28.49 L319.00,28.64 L318.60,28.77 L318.20,28.90 L317.80,28.69 L317.40,28.48 L317.00,28.38 L316.60,28.56 L316.20,28.75 L315.80,28.82 L315.40,28.77 L315.00,28.73 L314.60,28.54 L314.20,28.31 L313.80,28.08 L313.40,27.93 L313.00,27.79 L312.60,27.64 L312.20,27.47 L311.80,27.31 L311.40,27.29 L311.00,27.43 L310.60,27.56 L310.20,27.78 L309.80,28.03 L309.40,28.27 L309.00,27.80 L308.60,27.33 L308.20,27.08 L307.80,27.50 L307.40,27.91 L307.00,28.09 L306.60,28.04 L306.20,28.00 L305.80,27.85 L305.40,27.66 L305.00,27.48 L304.60,27.31 L304.20,27.13 L303.80,27.03 L303.40,27.13 L303.00,27.22 L302.60,27.27 L302.20,27.27 L301.80,27.26 L301.40,27.10 L301.00,26.89 L300.60,26.68 L300.20,26.85 L299.80,27.03 L299.40,27.03 L299.00,26.51 L298.60,25.99 L298.20,25.69 L297.80,25.62 L297.40,25.55 L297.00,25.72 L296.60,25.97 L296.20,26.22 L295.80,26.00 L295.40,25.79 L295.00,25.66 L294.60,25.83 L294.20,25.99 L293.80,26.14 L293.40,26.30 L293.00,26.45 L292.60,26.54 L292.20,26.60 L291.80,26.66 L291.40,26.48 L291.00,26.30 L290.60,26.18 L290.20,26.25 L289.80,26.31 L289.40,26.25 L289.00,26.09 L288.60,25.92 L288.20,26.06 L287.80,26.31 L287.40,26.56 L287.00,26.05 L286.60,25.55 L286.20,25.23 L285.80,25.47 L285.40,25.70 L285.00,25.78 L284.60,25.71 L284.20,25.64 L283.80,25.57 L283.40,25.50 L283.00,25.43 Z" fill="#6a6a6a" stroke="#6a6a6a" stroke-width="1.6" stroke-linejoin="round"/>
<path d="M283.00,22.01 L283.40,21.59 L283.80,21.17 L284.20,20.87 L284.60,20.97 L285.00,21.06 L285.40,21.02 L285.80,20.85 L286.20,20.68 L286.60,20.66 L287.00,20.68 L287.40,20.71 L287.80,20.89 L288.20,21.06 L288.60,21.15 L289.00,20.95 L289.40,20.75 L289.80,20.70 L290.20,20.80 L290.60,20.90 L291.00,20.85 L291.40,20.75 L291.80,20.65 L292.20,20.74 L292.60,20.82 L293.00,20.89 L293.40,20.90 L293.80,20.91 L294.20,20.99 L294.60,21.12 L295.00,21.26 L295.40,21.13 L295.80,20.91 L296.20,20.69 L296.60,21.19 L297.00,21.69 L297.40,21.96 L297.80,21.56 L298.20,21.16 L298.60,20.96 L299.00,20.95 L299.40,20.94 L299.80,21.29 L300.20,21.75 L300.60,22.22 L301.00,21.97 L301.40,21.72 L301.80,21.50 L302.20,21.34 L302.60,21.19 L303.00,21.19 L303.40,21.34 L303.80,21.50 L304.20,21.77 L304.60,22.09 L305.00,22.40 L305.40,22.40 L305.80,22.40 L306.20,22.39 L306.60,22.37 L307.00,22.36 L307.40,22.41 L307.80,22.54 L308.20,22.66 L308.60,22.59 L309.00,22.44 L309.40,22.30 L309.80,22.57 L310.20,22.84 L310.60,22.96 L311.00,22.67 L311.40,22.38 L311.80,22.31 L312.20,22.47 L312.60,22.62 L313.00,22.82 L313.40,23.02 L313.80,23.23 L314.20,23.13 L314.60,23.03 L315.00,22.92 L315.40,22.81 L315.80,22.70 L316.20,22.69 L316.60,22.79 L317.00,22.89 L317.40,23.15 L317.80,23.47 L318.20,23.80 L318.60,23.69 L319.00,23.59 L319.40,23.50 L319.80,23.49 L320.20,23.47 L320.60,23.57 L321.00,23.78 L321.40,24.00 L321.80,23.92 L322.20,23.75 L322.60,23.59 L323.00,23.98 L323.40,24.38 L323.80,24.69 L324.20,24.64 L324.60,24.63 L325.00,24.78 L325.40,25.10 L325.80,25.46 L326.20,25.74 L326.60,26.05 L327.00,26.39 L327.40,27.11 L327.80,27.86 L328.20,28.49 L328.60,28.69 L329.00,28.90 L329.40,29.48 L329.80,30.43 L330.20,31.39 L330.60,32.01 L331.00,32.52 L331.40,33.03 L331.80,33.40 L332.20,33.77 L332.60,34.23 L333.00,34.87 L333.40,35.53 L333.80,36.23 L334.20,36.98 L334.60,37.73 L335.00,38.52 L335.40,39.33 L335.80,40.14 L336.20,41.12 L336.60,42.09 L337.00,42.98 L337.40,43.60 L337.80,44.23 L338.20,44.76 L338.60,45.21 L339.00,45.67 L339.40,46.40 L339.80,47.24 L340.20,48.11 L340.60,48.71 L341.00,49.36 L341.40,50.22 L341.80,51.57 L342.20,53.02 L342.60,54.38 L343.00,55.67 L343.40,57.07 L343.80,58.56 L344.20,60.20 L344.60,61.95 L345.00,63.77 L345.40,65.35 L345.80,67.04 L346.20,68.49 L346.60,69.87 L347.00,71.47 L347.40,73.30 L347.80,75.12 L348.20,76.80 L348.60,78.44 L349.00,80.09 L349.40,81.73 L349.80,83.41 L350.20,85.16 L350.60,87.03 L351.00,88.91 L351.40,90.60 L351.80,92.11 L352.20,93.65 L352.60,95.42 L353.00,97.30 L353.40,99.25 L353.80,101.41 L354.20,103.66 L354.60,105.97 L355.00,108.31 L355.40,110.66 L355.80,113.02 L356.20,115.35 L356.60,117.64 L357.00,119.79 L357.40,121.89 L357.80,123.98 L358.20,126.01 L358.60,128.03 L359.00,130.04 L359.40,132.08 L359.80,134.10 L360.20,136.31 L360.60,138.70 L361.00,141.09 L361.40,143.11 L361.80,144.91 L362.20,146.52 L362.60,148.15 L363.00,149.64 L363.40,150.98 L363.80,152.06 L364.20,153.05 L364.60,154.18 L365.00,155.44 L365.40,156.63 L365.80,157.43 L366.20,158.06 L366.60,158.62 L367.00,159.70 L367.40,160.73 L367.80,161.52 L368.20,161.64 L368.60,161.72 L369.00,161.97 L369.40,162.39 L369.80,162.76 L370.20,163.28 L370.60,163.81 L371.00,164.27 L371.40,164.66 L371.80,164.98 L372.20,165.09 L372.60,164.68 L373.00,164.22 L373.40,163.83 L373.80,163.55 L374.20,163.21 L374.60,162.86 L375.00,162.48 L375.40,162.07 L375.80,161.59 L376.20,161.10 L376.60,160.66 L377.00,160.45 L377.40,160.19 L377.80,159.66 L378.20,158.88 L378.60,158.08 L379.00,157.52 L379.40,157.04 L379.80,156.54 L380.20,155.48 L380.60,154.40 L381.00,153.44 L381.40,152.81 L381.80,152.18 L382.20,151.34 L382.60,150.29 L383.00,149.21 L383.40,148.40 L383.80,147.67 L384.20,146.90 L384.60,146.27 L385.00,145.61 L385.40,144.81 L385.80,143.66 L386.20,142.50 L386.60,141.36 L387.00,140.27 L387.40,139.17 L387.80,138.30 L388.20,137.50 L388.60,136.69 L389.00,135.34 L389.40,133.99 L389.80,132.66 L390.20,131.43 L390.60,130.20 L391.00,129.12 L391.40,128.18 L391.80,127.22 L392.20,126.13 L392.60,124.96 L393.00,123.65 L393.40,122.15 L393.80,120.26 L394.20,118.11 L394.60,116.05 L395.00,114.35 L395.40,113.02 L395.80,111.91 L396.20,110.86 L396.60,109.94 L397.00,109.07 L397.40,108.23 L397.80,107.08 L398.20,105.94 L398.60,104.79 L399.00,103.60 L399.40,102.40 L399.80,101.46 L400.20,100.88 L400.60,100.21 L401.00,99.16 L401.40,98.00 L401.80,96.84 L402.20,96.01 L402.60,95.18 L403.00,94.31 L403.40,93.33 L403.80,92.34 L404.20,91.31 L404.60,90.25 L405.00,89.18 L405.40,88.00 L405.80,86.78 L406.20,85.54 L406.60,84.65 L407.00,83.72 L407.40,82.64 L407.80,81.16 L408.20,79.65 L408.60,78.39 L409.00,77.38 L409.40,76.36 L409.80,75.07 L410.20,73.69 L410.60,72.33 L411.00,70.97 L411.40,69.63 L411.80,68.38 L412.20,67.29 L412.60,66.25 L413.00,65.18 L413.40,64.10 L413.80,63.06 L414.20,62.16 L414.60,61.34 L415.00,60.53 L415.40,59.63 L415.80,58.74 L416.20,57.88 L416.60,57.08 L417.00,56.29 L417.40,55.39 L417.80,54.36 L418.20,53.35 L418.60,52.56 L419.00,51.85 L419.40,51.16 L419.80,50.82 L420.20,50.49 L420.60,50.00 L421.00,48.97 L421.40,47.97 L421.80,47.18 L422.20,46.62 L422.60,46.09 L423.00,45.67 L423.40,45.31 L423.80,44.97 L424.20,44.29 L424.60,43.63 L425.00,43.03 L425.40,42.56 L425.80,42.11 L426.20,41.57 L426.60,40.94 L427.00,40.32 L427.40,40.00 L427.80,39.77 L428.20,39.55 L428.60,39.19 L429.00,38.84 L429.40,38.44 L429.80,37.95 L430.20,37.44 L430.60,36.95 L431.00,36.48 L431.40,36.01 L431.80,35.49 L432.20,34.95 L432.60,34.41 L433.00,34.10 L433.40,33.78 L433.80,33.40 L434.20,32.82 L434.60,32.24 L435.00,31.81 L435.40,31.53 L435.80,31.26 L436.20,30.81 L436.60,30.29 L437.00,29.79 L437.40,29.51 L437.80,29.25 L438.20,28.96 L438.60,28.59 L439.00,28.23 L439.40,28.12 L439.80,28.28 L440.20,28.44 L440.60,28.13 L441.00,27.67 L441.40,27.22 L441.80,26.82 L442.20,26.43 L442.60,26.14 L443.00,26.11 L443.40,26.09 L443.80,25.88 L444.20,25.48 L444.60,25.09 L445.00,24.98 L445.40,24.97 L445.80,24.95 L446.20,24.67 L446.60,24.38 L447.00,24.10 L447.40,23.82 L447.80,23.55 L448.20,23.44 L448.60,23.49 L449.00,23.55 L449.40,23.33 L449.80,23.03 L450.20,22.72 L450.60,22.66 L451.00,22.61 L451.40,22.43 L451.80,21.90 L452.20,21.37 L452.60,21.04 L453.00,20.91 L453.40,20.77 L453.40,22.92 L453.00,22.99 L452.60,23.06 L452.20,23.11 L451.80,23.15 L451.40,23.18 L451.00,23.33 L450.60,23.51 L450.20,23.70 L449.80,24.04 L449.40,24.39 L449.00,24.71 L448.60,24.97 L448.20,25.23 L447.80,25.48 L447.40,25.73 L447.00,25.99 L446.60,26.12 L446.20,26.22 L445.80,26.30 L445.40,26.48 L445.00,26.65 L444.60,26.87 L444.20,27.26 L443.80,27.66 L443.40,27.98 L443.00,28.23 L442.60,28.48 L442.20,28.69 L441.80,28.89 L441.40,29.10 L441.00,29.05 L440.60,29.01 L440.20,29.06 L439.80,29.38 L439.40,29.71 L439.00,30.08 L438.60,30.49 L438.20,30.91 L437.80,31.13 L437.40,31.30 L437.00,31.48 L436.60,32.07 L436.20,32.67 L435.80,33.17 L435.40,33.36 L435.00,33.55 L434.60,33.86 L434.20,34.30 L433.80,34.75 L433.40,35.17 L433.00,35.58 L432.60,36.00 L432.20,36.54 L431.80,37.08 L431.40,37.65 L431.00,38.31 L430.60,38.98 L430.20,39.45 L429.80,39.73 L429.40,40.00 L429.00,40.42 L428.60,40.89 L428.20,41.36 L427.80,41.53 L427.40,41.71 L427.00,42.05 L426.60,42.86 L426.20,43.69 L425.80,44.13 L425.40,44.18 L425.00,44.25 L424.60,44.67 L424.20,45.22 L423.80,45.79 L423.40,46.55 L423.00,47.32 L422.60,48.11 L422.20,48.94 L421.80,49.78 L421.40,50.42 L421.00,50.83 L420.60,51.26 L420.20,52.00 L419.80,52.85 L419.40,53.72 L419.00,54.40 L418.60,55.10 L418.20,55.85 L417.80,56.75 L417.40,57.66 L417.00,58.43 L416.60,59.05 L416.20,59.69 L415.80,60.51 L415.40,61.39 L415.00,62.28 L414.60,63.36 L414.20,64.46 L413.80,65.51 L413.40,66.41 L413.00,67.35 L412.60,68.31 L412.20,69.31 L411.80,70.36 L411.40,71.64 L411.00,73.03 L410.60,74.45 L410.20,75.29 L409.80,76.14 L409.40,77.20 L409.00,78.86 L408.60,80.51 L408.20,81.79 L407.80,82.67 L407.40,83.51 L407.00,84.81 L406.60,86.22 L406.20,87.61 L405.80,88.38 L405.40,89.13 L405.00,90.03 L404.60,91.39 L404.20,92.75 L403.80,93.75 L403.40,94.39 L403.00,95.03 L402.60,96.16 L402.20,97.46 L401.80,98.76 L401.40,99.33 L401.00,99.90 L400.60,100.62 L400.20,101.73 L399.80,102.96 L399.40,104.09 L399.00,105.22 L398.60,106.34 L398.20,107.57 L397.80,108.84 L397.40,110.12 L397.00,110.91 L396.60,111.72 L396.20,112.65 L395.80,113.86 L395.40,115.13 L395.00,116.52 L394.60,118.15 L394.20,120.16 L393.80,122.03 L393.40,123.55 L393.00,124.69 L392.60,126.31 L392.20,127.80 L391.80,129.23 L391.40,130.60 L391.00,131.94 L390.60,133.07 L390.20,133.99 L389.80,134.90 L389.40,135.76 L389.00,136.58 L388.60,137.40 L388.20,138.70 L387.80,140.00 L387.40,141.25 L387.00,142.33 L386.60,143.41 L386.20,144.28 L385.80,144.96 L385.40,145.61 L385.00,146.62 L384.60,147.73 L384.20,148.82 L383.80,149.76 L383.40,150.68 L383.00,151.53 L382.60,152.25 L382.20,152.94 L381.80,153.72 L381.40,154.60 L381.00,155.46 L380.60,156.37 L380.20,157.28 L379.80,158.17 L379.40,158.92 L379.00,159.66 L378.60,160.37 L378.20,161.08 L377.80,161.75 L377.40,162.19 L377.00,162.40 L376.60,162.56 L376.20,163.19 L375.80,163.95 L375.40,164.69 L375.00,165.16 L374.60,165.59 L374.20,165.94 L373.80,166.17 L373.40,166.35 L373.00,166.55 L372.60,166.77 L372.20,166.94 L371.80,166.72 L371.40,166.35 L371.00,165.90 L370.60,165.70 L370.20,165.44 L369.80,165.08 L369.40,164.54 L369.00,163.95 L368.60,163.54 L368.20,163.31 L367.80,163.05 L367.40,162.44 L367.00,161.70 L366.60,160.91 L366.20,160.35 L365.80,159.73 L365.40,158.92 L365.00,157.68 L364.60,156.37 L364.20,155.09 L363.80,153.86 L363.40,152.53 L363.00,151.27 L362.60,149.98 L362.20,148.54 L361.80,146.55 L361.40,144.38 L361.00,142.18 L360.60,140.24 L360.20,138.30 L359.80,136.15 L359.40,133.79 L359.00,131.41 L358.60,129.38 L358.20,127.47 L357.80,125.55 L357.40,123.56 L357.00,121.56 L356.60,119.49 L356.20,117.23 L355.80,114.91 L355.40,112.60 L355.00,110.31 L354.60,108.03 L354.20,105.63 L353.80,103.24 L353.40,100.92 L353.00,98.89 L352.60,96.91 L352.20,95.05 L351.80,93.43 L351.40,91.85 L351.00,90.18 L350.60,88.42 L350.20,86.67 L349.80,84.95 L349.40,83.27 L349.00,81.63 L348.60,80.12 L348.20,78.63 L347.80,77.16 L347.40,75.73 L347.00,74.30 L346.60,72.63 L346.20,70.71 L345.80,68.73 L345.40,66.93 L345.00,64.97 L344.60,63.28 L344.20,61.81 L343.80,60.46 L343.40,59.17 L343.00,57.76 L342.60,56.44 L342.20,55.33 L341.80,54.42 L341.40,53.60 L341.00,52.49 L340.60,51.32 L340.20,50.20 L339.80,49.52 L339.40,48.86 L339.00,48.32 L338.60,48.07 L338.20,47.83 L337.80,47.33 L337.40,46.58 L337.00,45.81 L336.60,45.17 L336.20,44.57 L335.80,43.96 L335.40,43.42 L335.00,42.88 L334.60,42.28 L334.20,41.54 L333.80,40.80 L333.40,40.11 L333.00,39.47 L332.60,38.84 L332.20,38.42 L331.80,38.07 L331.40,37.74 L331.00,37.11 L330.60,36.48 L330.20,35.82 L329.80,35.06 L329.40,34.31 L329.00,33.71 L328.60,33.28 L328.20,32.86 L327.80,32.59 L327.40,32.39 L327.00,32.21 L326.60,32.05 L326.20,31.93 L325.80,31.71 L325.40,31.17 L325.00,30.66 L324.60,30.36 L324.20,30.26 L323.80,30.18 L323.40,29.92 L323.00,29.61 L322.60,29.32 L322.20,29.32 L321.80,29.33 L321.40,29.33 L321.00,29.31 L320.60,29.30 L320.20,29.17 L319.80,28.93 L319.40,28.69 L319.00,28.77 L318.60,28.96 L318.20,29.16 L317.80,28.96 L317.40,28.77 L317.00,28.61 L316.60,28.54 L316.20,28.47 L315.80,28.44 L315.40,28.45 L315.00,28.46 L314.60,28.51 L314.20,28.56 L313.80,28.62 L313.40,28.76 L313.00,28.89 L312.60,28.90 L312.20,28.52 L311.80,28.15 L311.40,28.07 L311.00,28.28 L310.60,28.48 L310.20,28.60 L309.80,28.68 L309.40,28.76 L309.00,28.58 L308.60,28.40 L308.20,28.29 L307.80,28.38 L307.40,28.47 L307.00,28.41 L306.60,28.18 L306.20,27.96 L305.80,27.94 L305.40,28.00 L305.00,28.05 L304.60,28.14 L304.20,28.23 L303.80,28.28 L303.40,28.22 L303.00,28.17 L302.60,27.97 L302.20,27.63 L301.80,27.29 L301.40,27.15 L301.00,27.07 L300.60,27.00 L300.20,27.22 L299.80,27.44 L299.40,27.62 L299.00,27.68 L298.60,27.74 L298.20,27.64 L297.80,27.37 L297.40,27.11 L297.00,27.09 L296.60,27.16 L296.20,27.23 L295.80,27.35 L295.40,27.47 L295.00,27.47 L294.60,27.10 L294.20,26.73 L293.80,26.50 L293.40,26.40 L293.00,26.30 L292.60,26.49 L292.20,26.78 L291.80,27.07 L291.40,26.85 L291.00,26.63 L290.60,26.52 L290.20,26.69 L289.80,26.88 L289.40,26.80 L289.00,26.46 L288.60,26.13 L288.20,26.20 L287.80,26.40 L287.40,26.61 L287.00,26.90 L286.60,27.19 L286.20,27.33 L285.80,27.01 L285.40,26.69 L285.00,26.60 L284.60,26.75 L284.20,26.90 L283.80,27.11 L283.40,27.35 L283.00,27.57 Z" fill="#a9a9a9" stroke="#a9a9a9" stroke-width="1.8" stroke-linejoin="round"/>
<ellipse cx="287.90" cy="27.35" rx="1.55" ry="0.8" fill="#111"/>
<ellipse cx="296.93" cy="27.65" rx="1.31" ry="0.8" fill="#111"/>
<ellipse cx="304.37" cy="28.23" rx="1.34" ry="0.8" fill="#111"/>
<ellipse cx="316.59" cy="28.97" rx="1.11" ry="0.8" fill="#111"/>
<ellipse cx="322.18" cy="30.61" rx="1.39" ry="0.8" fill="#111"/>
<ellipse cx="285.08" cy="21.10" rx="1.77" ry="0.8" fill="#555"/>
<ellipse cx="290.31" cy="20.43" rx="1.13" ry="0.8" fill="#555"/>
<ellipse cx="303.03" cy="21.29" rx="1.05" ry="0.8" fill="#555"/>
<ellipse cx="318.38" cy="22.59" rx="1.02" ry="0.8" fill="#555"/>
<line x1="408.80" y1="106.40" x2="384.60" y2="92.24" stroke="#000" stroke-width="1.8"/>
<path d="M377.70,88.20 L388.43,90.66 L384.52,92.19 L385.10,96.35 Z" fill="#000"/>
<text transform="translate(414.30,110.40)" font-size="10.7" font-weight="normal" font-style="normal" xml:space="preserve">1, 3</text>
<line x1="419.90" y1="163.00" x2="394.32" y2="148.21" stroke="#000" stroke-width="1.8"/>
<path d="M387.40,144.20 L398.14,146.60 L394.24,148.16 L394.84,152.31 Z" fill="#000"/>
<text transform="translate(422.78,167.98)" font-size="10.7" font-weight="normal" font-style="normal" xml:space="preserve">2</text>
<text transform="translate(478.94,13.16)" font-size="15" font-weight="bold" font-style="normal" xml:space="preserve">b</text>
<line x1="515.40" y1="39.10" x2="515.40" y2="180.00" stroke="#333" stroke-width="1.25"/>
<line x1="512.50" y1="179.40" x2="515.40" y2="179.40" stroke="#333" stroke-width="1.25"/>
<text transform="translate(504.33,183.60)" font-size="12.5" font-weight="normal" font-style="normal" xml:space="preserve">0</text>
<line x1="512.50" y1="151.46" x2="515.40" y2="151.46" stroke="#333" stroke-width="1.25"/>
<text transform="translate(490.43,155.66)" font-size="12.5" font-weight="normal" font-style="normal" xml:space="preserve">100</text>
<line x1="512.50" y1="123.52" x2="515.40" y2="123.52" stroke="#333" stroke-width="1.25"/>
<text transform="translate(490.43,127.72)" font-size="12.5" font-weight="normal" font-style="normal" xml:space="preserve">200</text>
<line x1="512.50" y1="95.58" x2="515.40" y2="95.58" stroke="#333" stroke-width="1.25"/>
<text transform="translate(490.43,99.78)" font-size="12.5" font-weight="normal" font-style="normal" xml:space="preserve">300</text>
<line x1="512.50" y1="67.64" x2="515.40" y2="67.64" stroke="#333" stroke-width="1.25"/>
<text transform="translate(490.43,71.84)" font-size="12.5" font-weight="normal" font-style="normal" xml:space="preserve">400</text>
<line x1="512.50" y1="39.70" x2="515.40" y2="39.70" stroke="#333" stroke-width="1.25"/>
<text transform="translate(490.43,43.90)" font-size="12.5" font-weight="normal" font-style="normal" xml:space="preserve">500</text>
<text transform="translate(479.05,151.79) rotate(-90)" font-size="11.8" font-weight="normal" font-style="normal" xml:space="preserve">@Current (pA)</text>
<line x1="545.40" y1="86.55" x2="545.40" y2="113.50" stroke="#000" stroke-width="1.65"/>
<line x1="534.95" y1="86.55" x2="555.85" y2="86.55" stroke="#000" stroke-width="1.65"/>
<rect x="525.85" y="113.50" width="39.10" height="42.70" fill="none" stroke="#000" stroke-width="1.65"/>
<line x1="525.85" y1="147.40" x2="564.95" y2="147.40" stroke="#000" stroke-width="1.65"/>
<line x1="545.40" y1="156.20" x2="545.40" y2="159.90" stroke="#000" stroke-width="1.65"/>
<line x1="534.95" y1="159.90" x2="555.85" y2="159.90" stroke="#000" stroke-width="1.65"/>
<line x1="604.67" y1="72.85" x2="604.67" y2="94.95" stroke="#000" stroke-width="1.65"/>
<line x1="594.22" y1="72.85" x2="615.12" y2="72.85" stroke="#000" stroke-width="1.65"/>
<rect x="585.10" y="94.95" width="39.15" height="52.05" fill="none" stroke="#000" stroke-width="1.65"/>
<line x1="585.10" y1="141.90" x2="624.25" y2="141.90" stroke="#000" stroke-width="1.65"/>
<line x1="604.67" y1="147.00" x2="604.67" y2="156.20" stroke="#000" stroke-width="1.65"/>
<line x1="594.22" y1="156.20" x2="615.12" y2="156.20" stroke="#000" stroke-width="1.65"/>
<line x1="664.25" y1="76.75" x2="664.25" y2="117.15" stroke="#000" stroke-width="1.65"/>
<line x1="653.90" y1="76.75" x2="674.60" y2="76.75" stroke="#000" stroke-width="1.65"/>
<rect x="644.60" y="117.15" width="39.30" height="38.00" fill="none" stroke="#000" stroke-width="1.65"/>
<line x1="644.60" y1="149.55" x2="683.90" y2="149.55" stroke="#000" stroke-width="1.65"/>
<line x1="664.25" y1="155.15" x2="664.25" y2="159.80" stroke="#000" stroke-width="1.65"/>
<line x1="653.90" y1="159.80" x2="674.60" y2="159.80" stroke="#000" stroke-width="1.65"/>
<path d="M545.8,63.6 L545.8,23.6 L663.4,23.6 L663.4,63.6 M605.1,23.6 L605.1,63.6" fill="none" stroke="#000" stroke-width="1.8"/>
<path d="M573.60,16.30 L578.20,16.30 M575.90,14.68 L575.90,17.38 M574.17,13.60 L577.62,19.00 M577.62,13.60 L574.17,19.00" stroke="#111" stroke-width="1.3" fill="none"/>
<path d="M629.10,16.30 L633.70,16.30 M631.40,14.68 L631.40,17.38 M629.67,13.60 L633.12,19.00 M633.12,13.60 L629.67,19.00" stroke="#111" stroke-width="1.3" fill="none"/>
<path d="M634.40,16.30 L639.00,16.30 M636.70,14.68 L636.70,17.38 M634.98,13.60 L638.43,19.00 M638.43,13.60 L634.98,19.00" stroke="#111" stroke-width="1.3" fill="none"/>
<text transform="translate(536.24,200.93) rotate(-45)" font-size="12.2" font-weight="normal" font-style="italic" xml:space="preserve">Control</text>
<text transform="translate(598.25,193.98) rotate(-45)" font-size="12.2" font-weight="normal" font-style="italic" xml:space="preserve">SKF</text>
<text transform="translate(659.26,198.21) rotate(-45)" font-size="12.2" font-weight="normal" font-style="italic" xml:space="preserve">Wash</text>
<text transform="translate(12.19,269.16)" font-size="15" font-weight="bold" font-style="normal" xml:space="preserve">c</text>
<rect x="82.00" y="298.20" width="38.80" height="141.30" fill="#666666"/>
<rect x="120.80" y="298.20" width="98.40" height="141.30" fill="#a6a6a6"/>
<line x1="51.00" y1="297.60" x2="51.00" y2="440.20" stroke="#333" stroke-width="1.45"/>
<line x1="50.40" y1="439.50" x2="219.20" y2="439.50" stroke="#333" stroke-width="1.5"/>
<line x1="48.00" y1="297.80" x2="51.00" y2="297.80" stroke="#333" stroke-width="1.25"/>
<line x1="48.00" y1="349.60" x2="51.00" y2="349.60" stroke="#333" stroke-width="1.25"/>
<line x1="48.00" y1="401.40" x2="51.00" y2="401.40" stroke="#333" stroke-width="1.25"/>
<text transform="translate(21.60,301.65)" font-size="12.5" font-weight="normal" font-style="normal" xml:space="preserve">-400</text>
<text transform="translate(21.65,352.65)" font-size="12.5" font-weight="normal" font-style="normal" xml:space="preserve">-600</text>
<text transform="translate(21.65,404.50)" font-size="12.5" font-weight="normal" font-style="normal" xml:space="preserve">-800</text>
<line x1="53.60" y1="439.50" x2="53.60" y2="442.80" stroke="#333" stroke-width="1.25"/>
<line x1="111.65" y1="439.50" x2="111.65" y2="442.80" stroke="#333" stroke-width="1.25"/>
<line x1="169.70" y1="439.50" x2="169.70" y2="442.80" stroke="#333" stroke-width="1.25"/>
<text transform="translate(49.62,455.75)" font-size="12.5" font-weight="normal" font-style="normal" xml:space="preserve">0</text>
<text transform="translate(101.19,455.75)" font-size="12.5" font-weight="normal" font-style="normal" xml:space="preserve">100</text>
<text transform="translate(159.75,455.75)" font-size="12.5" font-weight="normal" font-style="normal" xml:space="preserve">200</text>
<text transform="translate(110.38,473.81)" font-size="12.0" font-weight="normal" font-style="normal" xml:space="preserve">Time (s)</text>
<text transform="translate(12.34,393.89) rotate(-90)" font-size="12.9" font-weight="normal" font-style="normal" xml:space="preserve">Current (pA)</text>
<line x1="51.60" y1="283.70" x2="80.90" y2="283.70" stroke="#000" stroke-width="1.6"/>
<line x1="83.90" y1="272.30" x2="219.20" y2="272.30" stroke="#000" stroke-width="1.6"/>
<line x1="85.00" y1="293.50" x2="119.70" y2="293.50" stroke="#000" stroke-width="1.6"/>
<text transform="translate(55.40,279.64) scale(1.06,1.0)" font-size="9.0" font-weight="normal" font-style="italic" xml:space="preserve" style="stroke-width:0.1px"><tspan font-weight="bold">1.</tspan> Ctr</text>
<text transform="translate(92.68,267.13) scale(1.08,1.0)" font-size="9.5" font-weight="normal" font-style="italic" xml:space="preserve" style="stroke-width:0.1px"><tspan font-weight="bold">3.</tspan> SKF  10 µM</text>
<text transform="translate(90.74,287.87) scale(1.05,1.0)" font-size="9.5" font-weight="normal" font-style="italic" xml:space="preserve" style="stroke-width:0.1px"><tspan font-weight="bold">2.</tspan> SCH 100 nM</text>
<ellipse cx="54.60" cy="312.70" rx="2.7" ry="3.35" fill="#fff" stroke="#111" stroke-width="0.95"/>
<ellipse cx="58.90" cy="310.80" rx="2.7" ry="3.35" fill="#fff" stroke="#111" stroke-width="0.95"/>
<ellipse cx="62.70" cy="312.10" rx="2.7" ry="3.35" fill="#fff" stroke="#111" stroke-width="0.95"/>
<ellipse cx="67.10" cy="309.70" rx="2.7" ry="3.35" fill="#fff" stroke="#111" stroke-width="0.95"/>
<ellipse cx="71.00" cy="309.80" rx="2.7" ry="3.35" fill="#fff" stroke="#111" stroke-width="0.95"/>
<ellipse cx="75.00" cy="311.00" rx="2.7" ry="3.35" fill="#fff" stroke="#111" stroke-width="0.95"/>
<ellipse cx="78.90" cy="309.20" rx="2.7" ry="3.35" fill="#fff" stroke="#111" stroke-width="0.95"/>
<ellipse cx="82.80" cy="308.40" rx="2.7" ry="3.35" fill="#fff" stroke="#111" stroke-width="0.95"/>
<ellipse cx="86.80" cy="311.00" rx="2.7" ry="3.35" fill="#fff" stroke="#111" stroke-width="0.95"/>
<ellipse cx="91.00" cy="313.40" rx="2.7" ry="3.35" fill="#fff" stroke="#111" stroke-width="0.95"/>
<ellipse cx="94.90" cy="314.70" rx="2.7" ry="3.35" fill="#fff" stroke="#111" stroke-width="0.95"/>
<ellipse cx="98.90" cy="315.80" rx="2.7" ry="3.35" fill="#fff" stroke="#111" stroke-width="0.95"/>
<ellipse cx="102.80" cy="314.40" rx="2.7" ry="3.35" fill="#fff" stroke="#111" stroke-width="0.95"/>
<ellipse cx="106.80" cy="315.00" rx="2.7" ry="3.35" fill="#fff" stroke="#111" stroke-width="0.95"/>
<ellipse cx="110.70" cy="315.80" rx="2.7" ry="3.35" fill="#fff" stroke="#111" stroke-width="0.95"/>
<ellipse cx="114.60" cy="315.00" rx="2.7" ry="3.35" fill="#fff" stroke="#111" stroke-width="0.95"/>
<ellipse cx="118.60" cy="316.00" rx="2.7" ry="3.35" fill="#fff" stroke="#111" stroke-width="0.95"/>
<ellipse cx="123.80" cy="320.60" rx="2.7" ry="3.35" fill="#fff" stroke="#111" stroke-width="0.95"/>
<ellipse cx="127.80" cy="323.60" rx="2.7" ry="3.35" fill="#fff" stroke="#111" stroke-width="0.95"/>
<ellipse cx="131.70" cy="326.80" rx="2.7" ry="3.35" fill="#fff" stroke="#111" stroke-width="0.95"/>
<ellipse cx="136.70" cy="333.00" rx="2.7" ry="3.35" fill="#fff" stroke="#111" stroke-width="0.95"/>
<ellipse cx="140.90" cy="338.90" rx="2.7" ry="3.35" fill="#fff" stroke="#111" stroke-width="0.95"/>
<ellipse cx="145.40" cy="355.60" rx="2.7" ry="3.35" fill="#fff" stroke="#111" stroke-width="0.95"/>
<ellipse cx="149.70" cy="359.40" rx="2.7" ry="3.35" fill="#fff" stroke="#111" stroke-width="0.95"/>
<ellipse cx="153.70" cy="363.70" rx="2.7" ry="3.35" fill="#fff" stroke="#111" stroke-width="0.95"/>
<ellipse cx="157.70" cy="366.10" rx="2.7" ry="3.35" fill="#fff" stroke="#111" stroke-width="0.95"/>
<ellipse cx="162.00" cy="373.80" rx="2.7" ry="3.35" fill="#fff" stroke="#111" stroke-width="0.95"/>
<ellipse cx="166.40" cy="375.90" rx="2.7" ry="3.35" fill="#fff" stroke="#111" stroke-width="0.95"/>
<ellipse cx="170.40" cy="382.10" rx="2.7" ry="3.35" fill="#fff" stroke="#111" stroke-width="0.95"/>
<ellipse cx="174.20" cy="387.80" rx="2.7" ry="3.35" fill="#fff" stroke="#111" stroke-width="0.95"/>
<ellipse cx="179.50" cy="392.00" rx="2.7" ry="3.35" fill="#fff" stroke="#111" stroke-width="0.95"/>
<ellipse cx="183.80" cy="400.00" rx="2.7" ry="3.35" fill="#fff" stroke="#111" stroke-width="0.95"/>
<ellipse cx="187.10" cy="404.60" rx="2.7" ry="3.35" fill="#fff" stroke="#111" stroke-width="0.95"/>
<ellipse cx="191.90" cy="411.70" rx="2.7" ry="3.35" fill="#fff" stroke="#111" stroke-width="0.95"/>
<ellipse cx="195.90" cy="414.90" rx="2.7" ry="3.35" fill="#fff" stroke="#111" stroke-width="0.95"/>
<ellipse cx="200.70" cy="414.10" rx="2.7" ry="3.35" fill="#fff" stroke="#111" stroke-width="0.95"/>
<ellipse cx="205.10" cy="414.40" rx="2.7" ry="3.35" fill="#fff" stroke="#111" stroke-width="0.95"/>
<ellipse cx="210.10" cy="413.40" rx="2.7" ry="3.35" fill="#fff" stroke="#111" stroke-width="0.95"/>
<ellipse cx="215.10" cy="414.10" rx="2.7" ry="3.35" fill="#fff" stroke="#111" stroke-width="0.95"/>
<line x1="282.60" y1="267.40" x2="282.60" y2="443.60" stroke="#333" stroke-width="1.25"/>
<line x1="282.00" y1="440.00" x2="456.10" y2="440.00" stroke="#4a4a4a" stroke-width="1.6"/>
<line x1="279.40" y1="268.30" x2="282.60" y2="268.30" stroke="#333" stroke-width="1.25"/>
<line x1="279.40" y1="338.35" x2="282.60" y2="338.35" stroke="#333" stroke-width="1.25"/>
<line x1="279.40" y1="408.40" x2="282.60" y2="408.40" stroke="#333" stroke-width="1.25"/>
<text transform="translate(272.32,271.70)" font-size="12.5" font-weight="normal" font-style="normal" xml:space="preserve">0</text>
<text transform="translate(252.20,341.68)" font-size="12.6" font-weight="normal" font-style="normal" xml:space="preserve">-400</text>
<text transform="translate(252.20,410.78)" font-size="12.6" font-weight="normal" font-style="normal" xml:space="preserve">-800</text>
<line x1="282.50" y1="440.00" x2="282.50" y2="443.40" stroke="#333" stroke-width="1.25"/>
<line x1="308.92" y1="440.00" x2="308.92" y2="443.40" stroke="#333" stroke-width="1.25"/>
<line x1="335.34" y1="440.00" x2="335.34" y2="443.40" stroke="#333" stroke-width="1.25"/>
<line x1="361.76" y1="440.00" x2="361.76" y2="443.40" stroke="#333" stroke-width="1.25"/>
<line x1="388.18" y1="440.00" x2="388.18" y2="443.40" stroke="#333" stroke-width="1.25"/>
<line x1="414.60" y1="440.00" x2="414.60" y2="443.40" stroke="#333" stroke-width="1.25"/>
<line x1="441.02" y1="440.00" x2="441.02" y2="443.40" stroke="#333" stroke-width="1.25"/>
<text transform="translate(272.27,455.78)" font-size="12.3" font-weight="normal" font-style="normal" xml:space="preserve">-80</text>
<text transform="translate(297.62,455.78)" font-size="12.3" font-weight="normal" font-style="normal" xml:space="preserve">-60</text>
<text transform="translate(323.62,455.78)" font-size="12.3" font-weight="normal" font-style="normal" xml:space="preserve">-40</text>
<text transform="translate(352.52,455.78)" font-size="12.3" font-weight="normal" font-style="normal" xml:space="preserve">-20</text>
<text transform="translate(385.02,455.78)" font-size="12.3" font-weight="normal" font-style="normal" xml:space="preserve">0</text>
<text transform="translate(410.15,455.78)" font-size="12.3" font-weight="normal" font-style="normal" xml:space="preserve">20</text>
<text transform="translate(434.62,455.78)" font-size="12.3" font-weight="normal" font-style="normal" xml:space="preserve">40</text>
<text transform="translate(352.42,473.86)" font-size="12.0" font-weight="normal" font-style="normal" xml:space="preserve">Voltage (mV)</text>
<text transform="translate(244.39,388.69) rotate(-90)" font-size="12.9" font-weight="normal" font-style="normal" xml:space="preserve">Current (pA)</text>
<path d="M283.10,267.40 L283.37,267.40 L283.68,267.40 L284.01,267.39 L284.37,267.39 L284.76,267.39 L285.17,267.39 L285.61,267.38 L286.06,267.38 L286.54,267.37 L287.04,267.37 L287.55,267.37 L288.08,267.36 L288.62,267.36 L289.18,267.35 L289.75,267.35 L290.32,267.35 L290.90,267.34 L291.49,267.34 L292.09,267.33 L292.69,267.33 L293.28,267.33 L293.88,267.32 L294.48,267.32 L295.07,267.32 L295.66,267.31 L296.24,267.31 L296.81,267.31 L297.38,267.31 L297.93,267.30 L298.47,267.30 L299.00,267.30 L299.51,267.30 L300.00,267.30 L300.53,267.30 L301.07,267.30 L301.60,267.30 L302.13,267.30 L302.67,267.30 L303.20,267.30 L303.73,267.30 L304.27,267.30 L304.80,267.30 L305.33,267.30 L305.85,267.30 L306.38,267.31 L306.90,267.31 L307.42,267.31 L307.93,267.31 L308.44,267.32 L308.95,267.32 L309.45,267.32 L309.95,267.33 L310.44,267.33 L310.93,267.33 L311.41,267.34 L311.88,267.35 L312.35,267.35 L312.81,267.36 L313.27,267.37 L313.71,267.37 L314.15,267.38 L314.58,267.39 L315.00,267.40 L315.61,267.41 L316.20,267.43 L316.77,267.44 L317.32,267.45 L317.85,267.46 L318.37,267.47 L318.87,267.49 L319.36,267.50 L319.84,267.51 L320.31,267.53 L320.78,267.55 L321.24,267.57 L321.70,267.60 L322.16,267.63 L322.62,267.66 L323.08,267.70 L323.55,267.74 L324.02,267.79 L324.51,267.84 L325.00,267.90 L325.50,267.96 L326.01,268.02 L326.51,268.08 L327.02,268.14 L327.53,268.20 L328.04,268.27 L328.55,268.33 L329.06,268.40 L329.57,268.48 L330.07,268.56 L330.58,268.65 L331.09,268.75 L331.59,268.85 L332.09,268.97 L332.58,269.09 L333.08,269.23 L333.57,269.37 L334.05,269.54 L334.53,269.71 L335.00,269.90 L335.45,270.10 L335.90,270.31 L336.34,270.53 L336.79,270.77 L337.23,271.01 L337.68,271.27 L338.12,271.54 L338.56,271.82 L338.99,272.10 L339.42,272.40 L339.85,272.69 L340.27,273.00 L340.69,273.30 L341.10,273.61 L341.51,273.93 L341.91,274.24 L342.30,274.56 L342.69,274.87 L343.07,275.18 L343.44,275.49 L343.80,275.80 L344.21,276.16 L344.61,276.52 L345.00,276.88 L345.38,277.24 L345.74,277.61 L346.10,277.98 L346.46,278.36 L346.80,278.73 L347.14,279.11 L347.47,279.50 L347.80,279.88 L348.12,280.27 L348.44,280.67 L348.75,281.07 L349.07,281.47 L349.38,281.88 L349.69,282.29 L350.00,282.70 L350.29,283.10 L350.58,283.49 L350.87,283.89 L351.15,284.29 L351.43,284.70 L351.71,285.10 L351.98,285.51 L352.25,285.93 L352.52,286.35 L352.78,286.77 L353.04,287.19 L353.30,287.62 L353.55,288.06 L353.80,288.50 L354.05,288.95 L354.29,289.40 L354.53,289.86 L354.77,290.33 L355.00,290.80 L355.21,291.23 L355.41,291.67 L355.61,292.12 L355.81,292.57 L356.00,293.02 L356.19,293.48 L356.38,293.94 L356.57,294.41 L356.75,294.88 L356.93,295.36 L357.11,295.84 L357.28,296.32 L357.46,296.81 L357.63,297.30 L357.80,297.79 L357.97,298.29 L358.14,298.79 L358.30,299.29 L358.47,299.79 L358.64,300.29 L358.80,300.80 L358.95,301.27 L359.10,301.75 L359.25,302.23 L359.40,302.72 L359.54,303.22 L359.69,303.73 L359.84,304.24 L359.98,304.75 L360.12,305.26 L360.27,305.78 L360.41,306.29 L360.54,306.81 L360.68,307.32 L360.81,307.83 L360.95,308.33 L361.07,308.83 L361.20,309.33 L361.33,309.81 L361.45,310.29 L361.56,310.76 L361.68,311.22 L361.79,311.67 L361.90,312.10 L362.04,312.67 L362.17,313.23 L362.29,313.78 L362.40,314.32 L362.51,314.84 L362.61,315.36 L362.71,315.86 L362.80,316.36 L362.90,316.84 L362.99,317.32 L363.08,317.79 L363.17,318.26 L363.27,318.72 L363.37,319.17 L363.47,319.62 L363.58,320.06 L363.70,320.50 L363.86,321.06 L364.03,321.61 L364.20,322.15 L364.38,322.67 L364.56,323.18 L364.74,323.68 L364.92,324.18 L365.11,324.66 L365.29,325.14 L365.47,325.61 L365.65,326.07 L365.83,326.54 L366.00,327.00 L366.20,327.53 L366.38,328.04 L366.57,328.53 L366.74,329.01 L366.92,329.48 L367.10,329.95 L367.29,330.43 L367.47,330.92 L367.67,331.42 L367.88,331.95 L368.10,332.50 L368.27,332.93 L368.45,333.38 L368.63,333.86 L368.82,334.34 L369.01,334.84 L369.21,335.35 L369.41,335.85 L369.61,336.36 L369.81,336.86 L370.01,337.35 L370.21,337.82 L370.41,338.28 L370.61,338.72 L370.81,339.12 L371.00,339.50 L371.31,340.09 L371.62,340.64 L371.93,341.16 L372.23,341.63 L372.53,342.07 L372.84,342.46 L373.15,342.79 L373.47,343.08 L373.80,343.30 L374.31,343.52 L374.83,343.61 L375.36,343.59 L375.90,343.47 L376.44,343.27 L377.00,343.00 L377.37,342.79 L377.74,342.56 L378.11,342.30 L378.49,342.00 L378.87,341.66 L379.26,341.28 L379.66,340.84 L380.07,340.35 L380.50,339.80 L380.74,339.48 L380.98,339.12 L381.23,338.74 L381.49,338.34 L381.75,337.91 L382.02,337.47 L382.29,337.02 L382.56,336.56 L382.83,336.09 L383.10,335.62 L383.37,335.15 L383.64,334.68 L383.90,334.22 L384.16,333.76 L384.41,333.32 L384.66,332.90 L384.90,332.50 L385.20,332.00 L385.50,331.51 L385.79,331.04 L386.07,330.57 L386.35,330.12 L386.63,329.67 L386.90,329.23 L387.17,328.78 L387.43,328.34 L387.70,327.89 L387.97,327.44 L388.23,326.97 L388.50,326.50 L388.75,326.05 L389.01,325.58 L389.27,325.10 L389.53,324.62 L389.79,324.13 L390.05,323.64 L390.31,323.15 L390.56,322.67 L390.80,322.19 L391.04,321.72 L391.27,321.26 L391.49,320.82 L391.70,320.40 L391.90,320.00 L392.15,319.46 L392.32,319.02 L392.44,318.65 L392.55,318.30 L392.67,317.94 L392.82,317.53 L393.04,317.03 L393.36,316.40 L393.80,315.60 L393.98,315.29 L394.17,314.96 L394.37,314.61 L394.59,314.25 L394.82,313.86 L395.06,313.46 L395.31,313.05 L395.57,312.63 L395.83,312.19 L396.11,311.74 L396.39,311.29 L396.67,310.82 L396.97,310.36 L397.26,309.88 L397.56,309.40 L397.86,308.93 L398.16,308.45 L398.47,307.97 L398.77,307.49 L399.07,307.02 L399.37,306.55 L399.67,306.08 L399.97,305.63 L400.26,305.18 L400.55,304.74 L400.83,304.31 L401.10,303.90 L401.39,303.46 L401.68,303.02 L401.97,302.59 L402.25,302.16 L402.54,301.72 L402.82,301.30 L403.10,300.87 L403.38,300.44 L403.67,300.02 L403.95,299.60 L404.23,299.18 L404.51,298.77 L404.80,298.36 L405.08,297.95 L405.37,297.54 L405.66,297.13 L405.95,296.73 L406.25,296.33 L406.54,295.93 L406.84,295.54 L407.15,295.14 L407.45,294.75 L407.77,294.37 L408.08,293.98 L408.40,293.60 L408.74,293.21 L409.08,292.81 L409.43,292.42 L409.78,292.03 L410.14,291.65 L410.50,291.26 L410.86,290.88 L411.23,290.50 L411.59,290.13 L411.97,289.76 L412.34,289.39 L412.71,289.02 L413.09,288.66 L413.46,288.30 L413.84,287.94 L414.22,287.59 L414.60,287.24 L414.97,286.89 L415.35,286.55 L415.72,286.21 L416.09,285.88 L416.47,285.55 L416.83,285.22 L417.20,284.90 L417.62,284.54 L418.03,284.18 L418.45,283.83 L418.86,283.48 L419.28,283.14 L419.69,282.80 L420.10,282.46 L420.52,282.13 L420.93,281.81 L421.34,281.49 L421.76,281.17 L422.17,280.86 L422.58,280.56 L423.00,280.26 L423.41,279.96 L423.82,279.67 L424.24,279.39 L424.65,279.11 L425.07,278.83 L425.48,278.56 L425.90,278.30 L426.36,278.01 L426.82,277.74 L427.28,277.47 L427.75,277.20 L428.21,276.95 L428.67,276.70 L429.13,276.45 L429.60,276.22 L430.06,275.98 L430.53,275.76 L430.99,275.53 L431.45,275.32 L431.92,275.10 L432.38,274.89 L432.85,274.69 L433.31,274.49 L433.77,274.29 L434.24,274.09 L434.70,273.90 L435.19,273.70 L435.69,273.51 L436.18,273.32 L436.68,273.14 L437.19,272.97 L437.69,272.80 L438.19,272.63 L438.69,272.47 L439.19,272.31 L439.69,272.16 L440.19,272.01 L440.68,271.86 L441.16,271.71 L441.65,271.57 L442.12,271.43 L442.59,271.28 L443.05,271.14 L443.50,271.00 L444.03,270.83 L444.57,270.67 L445.09,270.50 L445.61,270.34 L446.13,270.19 L446.63,270.04 L447.13,269.89 L447.63,269.74 L448.11,269.60 L448.59,269.46 L449.05,269.32 L449.50,269.18 L449.95,269.05 L450.38,268.92 L450.80,268.80 L451.42,268.61 L452.04,268.43 L452.65,268.25 L453.24,268.08 L453.81,267.91 L454.33,267.76 L454.81,267.62 L455.24,267.49 L455.61,267.39 L455.90,267.30" fill="none" stroke="#686868" stroke-width="3.8" stroke-linejoin="round"/>
<path d="M283.10,266.80 L283.37,266.80 L283.68,266.80 L284.01,266.79 L284.37,266.79 L284.76,266.79 L285.17,266.79 L285.61,266.78 L286.06,266.78 L286.54,266.77 L287.04,266.77 L287.55,266.77 L288.08,266.76 L288.62,266.76 L289.18,266.75 L289.75,266.75 L290.32,266.75 L290.90,266.74 L291.49,266.74 L292.09,266.73 L292.69,266.73 L293.28,266.73 L293.88,266.72 L294.48,266.72 L295.07,266.72 L295.66,266.71 L296.24,266.71 L296.81,266.71 L297.38,266.71 L297.93,266.70 L298.47,266.70 L299.00,266.70 L299.51,266.70 L300.00,266.70 L300.53,266.70 L301.07,266.70 L301.60,266.70 L302.13,266.70 L302.67,266.70 L303.20,266.70 L303.73,266.70 L304.27,266.70 L304.80,266.70 L305.33,266.70 L305.85,266.70 L306.38,266.71 L306.90,266.71 L307.42,266.71 L307.93,266.71 L308.44,266.72 L308.95,266.72 L309.45,266.72 L309.95,266.73 L310.44,266.73 L310.93,266.73 L311.41,266.74 L311.88,266.75 L312.35,266.75 L312.81,266.76 L313.27,266.77 L313.71,266.77 L314.15,266.78 L314.58,266.79 L315.00,266.80 L315.61,266.81 L316.20,266.83 L316.77,266.84 L317.32,266.85 L317.85,266.86 L318.37,266.87 L318.87,266.89 L319.36,266.90 L319.84,266.91 L320.31,266.93 L320.78,266.95 L321.24,266.97 L321.70,267.00 L322.16,267.03 L322.62,267.06 L323.08,267.10 L323.55,267.14 L324.02,267.19 L324.51,267.24 L325.00,267.30 L325.50,267.36 L326.01,267.42 L326.51,267.48 L327.02,267.54 L327.53,267.60 L328.04,267.67 L328.55,267.73 L329.06,267.80 L329.57,267.88 L330.07,267.96 L330.58,268.05 L331.09,268.15 L331.59,268.25 L332.09,268.37 L332.58,268.49 L333.08,268.63 L333.57,268.77 L334.05,268.94 L334.53,269.11 L335.00,269.30 L335.45,269.50 L335.90,269.71 L336.34,269.93 L336.79,270.17 L337.23,270.41 L337.68,270.67 L338.12,270.94 L338.56,271.22 L338.99,271.50 L339.42,271.80 L339.85,272.09 L340.27,272.40 L340.69,272.70 L341.10,273.01 L341.51,273.33 L341.91,273.64 L342.30,273.96 L342.69,274.27 L343.07,274.58 L343.44,274.89 L343.80,275.20 L344.21,275.56 L344.61,275.92 L345.00,276.28 L345.38,276.64 L345.74,277.01 L346.10,277.38 L346.46,277.76 L346.80,278.13 L347.14,278.51 L347.47,278.90 L347.80,279.28 L348.12,279.67 L348.44,280.07 L348.75,280.47 L349.07,280.87 L349.38,281.28 L349.69,281.69 L350.00,282.10 L350.29,282.50 L350.58,282.89 L350.87,283.29 L351.15,283.69 L351.43,284.10 L351.71,284.50 L351.98,284.91 L352.25,285.33 L352.52,285.75 L352.78,286.17 L353.04,286.59 L353.30,287.02 L353.55,287.46 L353.80,287.90 L354.05,288.35 L354.29,288.80 L354.53,289.26 L354.77,289.73 L355.00,290.20 L355.21,290.63 L355.41,291.07 L355.61,291.52 L355.81,291.97 L356.00,292.42 L356.19,292.88 L356.38,293.34 L356.57,293.81 L356.75,294.28 L356.93,294.76 L357.11,295.24 L357.28,295.72 L357.46,296.21 L357.63,296.70 L357.80,297.19 L357.97,297.69 L358.14,298.19 L358.30,298.69 L358.47,299.19 L358.64,299.69 L358.80,300.20 L358.95,300.67 L359.10,301.15 L359.25,301.63 L359.40,302.12 L359.54,302.62 L359.69,303.13 L359.84,303.64 L359.98,304.15 L360.12,304.66 L360.27,305.18 L360.41,305.69 L360.54,306.21 L360.68,306.72 L360.81,307.23 L360.95,307.73 L361.07,308.23 L361.20,308.73 L361.33,309.21 L361.45,309.69 L361.56,310.16 L361.68,310.62 L361.79,311.07 L361.90,311.50 L362.04,312.07 L362.17,312.63 L362.29,313.18 L362.40,313.72 L362.51,314.24 L362.61,314.76 L362.71,315.26 L362.80,315.76 L362.90,316.24 L362.99,316.72 L363.08,317.19 L363.17,317.66 L363.27,318.12 L363.37,318.57 L363.47,319.02 L363.58,319.46 L363.70,319.90 L363.86,320.46 L364.03,321.01 L364.20,321.55 L364.38,322.07 L364.56,322.58 L364.74,323.08 L364.92,323.58 L365.11,324.06 L365.29,324.54 L365.47,325.01 L365.65,325.47 L365.83,325.94 L366.00,326.40 L366.20,326.93 L366.38,327.44 L366.57,327.93 L366.74,328.41 L366.92,328.88 L367.10,329.35 L367.29,329.83 L367.47,330.32 L367.67,330.82 L367.88,331.35 L368.10,331.90 L368.27,332.33 L368.45,332.78 L368.63,333.26 L368.82,333.74 L369.01,334.24 L369.21,334.75 L369.41,335.25 L369.61,335.76 L369.81,336.26 L370.01,336.75 L370.21,337.22 L370.41,337.68 L370.61,338.12 L370.81,338.52 L371.00,338.90 L371.31,339.49 L371.62,340.04 L371.93,340.56 L372.23,341.03 L372.53,341.47 L372.84,341.86 L373.15,342.19 L373.47,342.48 L373.80,342.70 L374.31,342.92 L374.83,343.01 L375.36,342.99 L375.90,342.87 L376.44,342.67 L377.00,342.40 L377.37,342.19 L377.74,341.96 L378.11,341.70 L378.49,341.40 L378.87,341.06 L379.26,340.68 L379.66,340.24 L380.07,339.75 L380.50,339.20 L380.74,338.88 L380.98,338.52 L381.23,338.14 L381.49,337.74 L381.75,337.31 L382.02,336.87 L382.29,336.42 L382.56,335.96 L382.83,335.49 L383.10,335.02 L383.37,334.55 L383.64,334.08 L383.90,333.62 L384.16,333.16 L384.41,332.72 L384.66,332.30 L384.90,331.90 L385.20,331.40 L385.50,330.91 L385.79,330.44 L386.07,329.97 L386.35,329.52 L386.63,329.07 L386.90,328.63 L387.17,328.18 L387.43,327.74 L387.70,327.29 L387.97,326.84 L388.23,326.37 L388.50,325.90 L388.75,325.45 L389.01,324.98 L389.27,324.50 L389.53,324.02 L389.79,323.53 L390.05,323.04 L390.31,322.55 L390.56,322.07 L390.80,321.59 L391.04,321.12 L391.27,320.66 L391.49,320.22 L391.70,319.80 L391.90,319.40 L392.15,318.86 L392.32,318.42 L392.44,318.05 L392.55,317.70 L392.67,317.34 L392.82,316.93 L393.04,316.43 L393.36,315.80 L393.80,315.00 L393.98,314.69 L394.17,314.36 L394.37,314.01 L394.59,313.65 L394.82,313.26 L395.06,312.86 L395.31,312.45 L395.57,312.03 L395.83,311.59 L396.11,311.14 L396.39,310.69 L396.67,310.22 L396.97,309.76 L397.26,309.28 L397.56,308.80 L397.86,308.33 L398.16,307.85 L398.47,307.37 L398.77,306.89 L399.07,306.42 L399.37,305.95 L399.67,305.48 L399.97,305.03 L400.26,304.58 L400.55,304.14 L400.83,303.71 L401.10,303.30 L401.39,302.86 L401.68,302.42 L401.97,301.99 L402.25,301.56 L402.54,301.12 L402.82,300.70 L403.10,300.27 L403.38,299.84 L403.67,299.42 L403.95,299.00 L404.23,298.58 L404.51,298.17 L404.80,297.76 L405.08,297.35 L405.37,296.94 L405.66,296.53 L405.95,296.13 L406.25,295.73 L406.54,295.33 L406.84,294.94 L407.15,294.54 L407.45,294.15 L407.77,293.77 L408.08,293.38 L408.40,293.00 L408.74,292.61 L409.08,292.21 L409.43,291.82 L409.78,291.43 L410.14,291.05 L410.50,290.66 L410.86,290.28 L411.23,289.90 L411.59,289.53 L411.97,289.16 L412.34,288.79 L412.71,288.42 L413.09,288.06 L413.46,287.70 L413.84,287.34 L414.22,286.99 L414.60,286.64 L414.97,286.29 L415.35,285.95 L415.72,285.61 L416.09,285.28 L416.47,284.95 L416.83,284.62 L417.20,284.30 L417.62,283.94 L418.03,283.58 L418.45,283.23 L418.86,282.88 L419.28,282.54 L419.69,282.20 L420.10,281.86 L420.52,281.53 L420.93,281.21 L421.34,280.89 L421.76,280.57 L422.17,280.26 L422.58,279.96 L423.00,279.66 L423.41,279.36 L423.82,279.07 L424.24,278.79 L424.65,278.51 L425.07,278.23 L425.48,277.96 L425.90,277.70 L426.36,277.41 L426.82,277.14 L427.28,276.87 L427.75,276.60 L428.21,276.35 L428.67,276.10 L429.13,275.85 L429.60,275.62 L430.06,275.38 L430.53,275.16 L430.99,274.93 L431.45,274.72 L431.92,274.50 L432.38,274.29 L432.85,274.09 L433.31,273.89 L433.77,273.69 L434.24,273.49 L434.70,273.30 L435.19,273.10 L435.69,272.91 L436.18,272.72 L436.68,272.54 L437.19,272.37 L437.69,272.20 L438.19,272.03 L438.69,271.87 L439.19,271.71 L439.69,271.56 L440.19,271.41 L440.68,271.26 L441.16,271.11 L441.65,270.97 L442.12,270.83 L442.59,270.68 L443.05,270.54 L443.50,270.40 L444.03,270.23 L444.57,270.07 L445.09,269.90 L445.61,269.74 L446.13,269.59 L446.63,269.44 L447.13,269.29 L447.63,269.14 L448.11,269.00 L448.59,268.86 L449.05,268.72 L449.50,268.58 L449.95,268.45 L450.38,268.32 L450.80,268.20 L451.42,268.01 L452.04,267.83 L452.65,267.65 L453.24,267.48 L453.81,267.31 L454.33,267.16 L454.81,267.02 L455.24,266.89 L455.61,266.79 L455.90,266.70" fill="none" stroke="#111" stroke-width="1.2" stroke-linejoin="round"/>
<path d="M283.10,268.40 L283.37,268.40 L283.68,268.39 L284.01,268.38 L284.37,268.38 L284.76,268.37 L285.17,268.36 L285.61,268.35 L286.06,268.34 L286.54,268.33 L287.04,268.32 L287.55,268.31 L288.08,268.30 L288.62,268.29 L289.18,268.28 L289.75,268.27 L290.32,268.26 L290.90,268.24 L291.49,268.23 L292.09,268.22 L292.69,268.21 L293.28,268.20 L293.88,268.19 L294.48,268.18 L295.07,268.17 L295.66,268.16 L296.24,268.15 L296.81,268.14 L297.38,268.13 L297.93,268.12 L298.47,268.12 L299.00,268.11 L299.51,268.10 L300.00,268.10 L300.53,268.10 L301.07,268.09 L301.60,268.09 L302.13,268.08 L302.67,268.08 L303.20,268.07 L303.73,268.07 L304.27,268.07 L304.80,268.07 L305.33,268.06 L305.85,268.06 L306.38,268.06 L306.90,268.06 L307.42,268.06 L307.93,268.06 L308.44,268.06 L308.95,268.06 L309.45,268.06 L309.95,268.06 L310.44,268.06 L310.93,268.06 L311.41,268.06 L311.88,268.07 L312.35,268.07 L312.81,268.07 L313.27,268.08 L313.71,268.08 L314.15,268.09 L314.58,268.09 L315.00,268.10 L315.61,268.11 L316.20,268.11 L316.77,268.12 L317.32,268.12 L317.85,268.12 L318.37,268.12 L318.87,268.11 L319.36,268.12 L319.84,268.12 L320.31,268.13 L320.78,268.13 L321.24,268.15 L321.70,268.17 L322.16,268.19 L322.62,268.22 L323.08,268.26 L323.55,268.31 L324.02,268.36 L324.51,268.43 L325.00,268.50 L325.50,268.58 L326.02,268.67 L326.54,268.76 L327.06,268.86 L327.59,268.96 L328.12,269.07 L328.65,269.19 L329.18,269.31 L329.71,269.44 L330.23,269.57 L330.75,269.71 L331.27,269.86 L331.77,270.01 L332.27,270.17 L332.76,270.34 L333.24,270.52 L333.70,270.70 L334.15,270.89 L334.58,271.09 L335.00,271.30 L335.50,271.57 L335.97,271.86 L336.43,272.16 L336.87,272.48 L337.29,272.81 L337.69,273.15 L338.08,273.50 L338.46,273.86 L338.83,274.23 L339.20,274.60 L339.55,274.99 L339.90,275.38 L340.25,275.78 L340.60,276.18 L340.95,276.59 L341.30,277.00 L341.61,277.37 L341.92,277.75 L342.22,278.13 L342.52,278.52 L342.82,278.92 L343.11,279.32 L343.40,279.73 L343.68,280.14 L343.96,280.56 L344.24,280.98 L344.51,281.41 L344.78,281.84 L345.04,282.27 L345.30,282.71 L345.56,283.15 L345.81,283.60 L346.06,284.05 L346.30,284.50 L346.53,284.93 L346.74,285.35 L346.96,285.78 L347.16,286.20 L347.36,286.63 L347.56,287.06 L347.75,287.49 L347.94,287.92 L348.13,288.36 L348.32,288.81 L348.50,289.27 L348.69,289.73 L348.87,290.20 L349.05,290.69 L349.24,291.18 L349.42,291.69 L349.61,292.21 L349.80,292.75 L350.00,293.30 L350.14,293.71 L350.29,294.13 L350.44,294.56 L350.58,294.99 L350.73,295.43 L350.88,295.88 L351.02,296.33 L351.17,296.78 L351.32,297.25 L351.47,297.72 L351.62,298.19 L351.76,298.67 L351.91,299.15 L352.06,299.64 L352.21,300.13 L352.36,300.63 L352.50,301.13 L352.65,301.63 L352.80,302.14 L352.94,302.66 L353.09,303.17 L353.23,303.69 L353.37,304.21 L353.52,304.74 L353.66,305.27 L353.80,305.80 L353.92,306.25 L354.03,306.70 L354.15,307.15 L354.27,307.60 L354.38,308.06 L354.50,308.51 L354.62,308.97 L354.73,309.44 L354.85,309.90 L354.96,310.37 L355.08,310.84 L355.19,311.31 L355.30,311.79 L355.42,312.27 L355.53,312.75 L355.64,313.24 L355.76,313.73 L355.87,314.22 L355.98,314.72 L356.09,315.22 L356.20,315.72 L356.31,316.23 L356.43,316.74 L356.54,317.26 L356.65,317.78 L356.76,318.30 L356.87,318.83 L356.97,319.37 L357.08,319.91 L357.19,320.45 L357.30,321.00 L357.39,321.45 L357.48,321.92 L357.57,322.38 L357.66,322.86 L357.74,323.34 L357.83,323.83 L357.92,324.32 L358.01,324.82 L358.10,325.32 L358.19,325.83 L358.28,326.34 L358.37,326.86 L358.46,327.37 L358.55,327.89 L358.64,328.41 L358.73,328.94 L358.82,329.46 L358.91,329.99 L358.99,330.51 L359.08,331.04 L359.17,331.56 L359.25,332.09 L359.34,332.61 L359.42,333.13 L359.51,333.65 L359.59,334.17 L359.67,334.68 L359.75,335.19 L359.83,335.69 L359.91,336.20 L359.99,336.69 L360.07,337.18 L360.14,337.67 L360.22,338.15 L360.29,338.62 L360.36,339.09 L360.43,339.55 L360.50,340.00 L360.59,340.56 L360.67,341.12 L360.75,341.66 L360.83,342.20 L360.91,342.73 L360.99,343.26 L361.06,343.77 L361.14,344.29 L361.21,344.79 L361.28,345.30 L361.35,345.79 L361.42,346.29 L361.48,346.78 L361.55,347.27 L361.61,347.75 L361.68,348.23 L361.74,348.71 L361.80,349.19 L361.86,349.67 L361.92,350.15 L361.98,350.63 L362.04,351.10 L362.10,351.58 L362.16,352.06 L362.22,352.55 L362.27,353.03 L362.33,353.52 L362.39,354.01 L362.44,354.50 L362.50,355.00 L362.56,355.50 L362.61,356.00 L362.66,356.50 L362.71,356.99 L362.76,357.49 L362.81,357.99 L362.85,358.49 L362.90,358.98 L362.94,359.48 L362.99,359.97 L363.03,360.47 L363.07,360.97 L363.11,361.46 L363.15,361.96 L363.19,362.46 L363.24,362.95 L363.28,363.45 L363.32,363.95 L363.36,364.45 L363.40,364.95 L363.45,365.45 L363.49,365.95 L363.54,366.45 L363.58,366.96 L363.63,367.46 L363.68,367.96 L363.73,368.47 L363.79,368.98 L363.84,369.49 L363.90,370.00 L363.96,370.50 L364.01,370.99 L364.07,371.49 L364.13,371.99 L364.19,372.49 L364.25,373.00 L364.32,373.50 L364.38,374.00 L364.44,374.51 L364.51,375.02 L364.57,375.52 L364.64,376.03 L364.71,376.54 L364.77,377.05 L364.84,377.56 L364.91,378.07 L364.98,378.58 L365.05,379.09 L365.12,379.60 L365.19,380.11 L365.26,380.62 L365.33,381.13 L365.41,381.64 L365.48,382.15 L365.55,382.66 L365.63,383.17 L365.70,383.67 L365.77,384.18 L365.85,384.69 L365.92,385.19 L366.00,385.70 L366.08,386.21 L366.15,386.72 L366.23,387.24 L366.31,387.76 L366.40,388.29 L366.48,388.81 L366.56,389.35 L366.65,389.88 L366.73,390.41 L366.82,390.95 L366.91,391.48 L366.99,392.02 L367.08,392.55 L367.17,393.08 L367.26,393.61 L367.34,394.14 L367.43,394.66 L367.52,395.18 L367.61,395.69 L367.69,396.20 L367.78,396.71 L367.87,397.21 L367.95,397.70 L368.04,398.18 L368.12,398.65 L368.20,399.12 L368.29,399.58 L368.37,400.02 L368.45,400.46 L368.52,400.89 L368.60,401.30 L368.72,401.96 L368.84,402.60 L368.95,403.23 L369.07,403.84 L369.18,404.43 L369.28,405.01 L369.39,405.57 L369.49,406.11 L369.60,406.64 L369.70,407.15 L369.81,407.65 L369.91,408.13 L370.02,408.59 L370.12,409.03 L370.23,409.46 L370.35,409.87 L370.46,410.27 L370.58,410.64 L370.70,411.00 L370.99,411.78 L371.29,412.47 L371.59,413.06 L371.91,413.55 L372.23,413.95 L372.57,414.26 L372.92,414.47 L373.30,414.60 L373.70,414.63 L374.12,414.57 L374.55,414.42 L375.00,414.17 L375.46,413.83 L375.93,413.41 L376.41,412.90 L376.90,412.30 L377.13,411.99 L377.37,411.65 L377.61,411.29 L377.85,410.90 L378.09,410.49 L378.34,410.07 L378.59,409.62 L378.84,409.16 L379.09,408.68 L379.34,408.18 L379.59,407.67 L379.85,407.15 L380.10,406.62 L380.35,406.08 L380.60,405.52 L380.85,404.97 L381.10,404.40 L381.28,403.99 L381.45,403.57 L381.63,403.14 L381.80,402.70 L381.98,402.26 L382.15,401.80 L382.33,401.33 L382.50,400.86 L382.68,400.39 L382.86,399.90 L383.03,399.42 L383.21,398.92 L383.38,398.43 L383.56,397.93 L383.73,397.44 L383.91,396.94 L384.08,396.44 L384.26,395.94 L384.43,395.44 L384.61,394.95 L384.78,394.45 L384.95,393.96 L385.13,393.48 L385.30,393.00 L385.47,392.52 L385.65,392.05 L385.82,391.57 L385.99,391.09 L386.17,390.61 L386.34,390.13 L386.52,389.65 L386.69,389.17 L386.86,388.69 L387.04,388.22 L387.21,387.74 L387.38,387.26 L387.55,386.78 L387.73,386.30 L387.90,385.82 L388.07,385.34 L388.24,384.86 L388.41,384.38 L388.57,383.90 L388.74,383.42 L388.91,382.94 L389.07,382.46 L389.24,381.98 L389.40,381.50 L389.56,381.02 L389.72,380.54 L389.88,380.06 L390.04,379.58 L390.20,379.10 L390.35,378.62 L390.51,378.15 L390.66,377.67 L390.82,377.19 L390.97,376.71 L391.12,376.23 L391.27,375.75 L391.43,375.27 L391.58,374.79 L391.73,374.31 L391.88,373.83 L392.03,373.35 L392.18,372.88 L392.34,372.40 L392.49,371.92 L392.64,371.44 L392.79,370.96 L392.95,370.48 L393.10,370.00 L393.25,369.52 L393.41,369.04 L393.57,368.56 L393.72,368.08 L393.88,367.60 L394.03,367.12 L394.19,366.64 L394.35,366.16 L394.51,365.68 L394.66,365.20 L394.82,364.72 L394.98,364.24 L395.13,363.76 L395.29,363.28 L395.44,362.81 L395.60,362.33 L395.75,361.85 L395.90,361.37 L396.06,360.89 L396.21,360.41 L396.36,359.93 L396.51,359.45 L396.65,358.98 L396.80,358.50 L396.95,358.00 L397.10,357.50 L397.25,356.99 L397.39,356.48 L397.54,355.97 L397.68,355.46 L397.82,354.95 L397.96,354.44 L398.10,353.92 L398.24,353.41 L398.38,352.90 L398.52,352.40 L398.66,351.89 L398.80,351.39 L398.94,350.89 L399.08,350.40 L399.22,349.91 L399.36,349.42 L399.51,348.94 L399.65,348.47 L399.80,348.01 L399.95,347.55 L400.10,347.10 L400.29,346.57 L400.48,346.04 L400.67,345.52 L400.86,345.01 L401.06,344.51 L401.26,344.02 L401.46,343.53 L401.66,343.05 L401.86,342.57 L402.06,342.10 L402.26,341.64 L402.46,341.17 L402.66,340.71 L402.86,340.26 L403.05,339.80 L403.25,339.35 L403.43,338.90 L403.62,338.45 L403.80,338.00 L403.99,337.51 L404.18,337.04 L404.35,336.59 L404.51,336.15 L404.67,335.72 L404.83,335.30 L404.98,334.88 L405.13,334.46 L405.29,334.03 L405.45,333.60 L405.62,333.15 L405.80,332.69 L405.99,332.20 L406.19,331.70 L406.41,331.16 L406.65,330.60 L406.90,330.00 L407.06,329.62 L407.23,329.23 L407.41,328.83 L407.58,328.42 L407.77,328.00 L407.95,327.57 L408.15,327.14 L408.34,326.70 L408.54,326.25 L408.74,325.79 L408.95,325.33 L409.16,324.86 L409.37,324.39 L409.59,323.91 L409.81,323.43 L410.03,322.95 L410.25,322.46 L410.47,321.97 L410.70,321.47 L410.93,320.98 L411.16,320.48 L411.39,319.98 L411.63,319.48 L411.86,318.98 L412.09,318.49 L412.33,317.99 L412.56,317.49 L412.80,317.00 L413.01,316.57 L413.22,316.13 L413.43,315.68 L413.65,315.23 L413.86,314.78 L414.08,314.32 L414.30,313.86 L414.53,313.39 L414.75,312.93 L414.98,312.46 L415.21,311.99 L415.43,311.51 L415.67,311.04 L415.90,310.57 L416.13,310.09 L416.36,309.62 L416.60,309.15 L416.83,308.67 L417.07,308.20 L417.30,307.73 L417.54,307.27 L417.77,306.80 L418.01,306.34 L418.24,305.88 L418.48,305.43 L418.71,304.98 L418.94,304.54 L419.18,304.10 L419.41,303.66 L419.64,303.24 L419.87,302.81 L420.10,302.40 L420.37,301.91 L420.64,301.43 L420.91,300.96 L421.18,300.48 L421.45,300.01 L421.72,299.55 L421.99,299.09 L422.26,298.63 L422.53,298.18 L422.80,297.73 L423.07,297.28 L423.34,296.84 L423.61,296.40 L423.89,295.97 L424.16,295.54 L424.43,295.12 L424.70,294.70 L424.97,294.28 L425.24,293.86 L425.51,293.45 L425.78,293.05 L426.05,292.65 L426.32,292.25 L426.59,291.86 L426.86,291.47 L427.13,291.08 L427.40,290.70 L427.73,290.24 L428.06,289.78 L428.38,289.33 L428.71,288.89 L429.03,288.46 L429.35,288.03 L429.67,287.61 L429.99,287.19 L430.31,286.78 L430.63,286.37 L430.96,285.97 L431.28,285.58 L431.61,285.19 L431.94,284.81 L432.27,284.43 L432.60,284.06 L432.94,283.69 L433.28,283.32 L433.63,282.96 L433.98,282.60 L434.34,282.25 L434.70,281.90 L435.09,281.54 L435.49,281.18 L435.89,280.83 L436.30,280.48 L436.72,280.13 L437.15,279.79 L437.58,279.46 L438.01,279.13 L438.45,278.81 L438.88,278.49 L439.32,278.18 L439.75,277.87 L440.19,277.57 L440.62,277.27 L441.05,276.99 L441.48,276.70 L441.90,276.43 L442.31,276.16 L442.71,275.90 L443.11,275.65 L443.50,275.40 L444.00,275.09 L444.50,274.79 L444.99,274.51 L445.48,274.24 L445.97,273.99 L446.44,273.74 L446.92,273.51 L447.38,273.28 L447.84,273.06 L448.29,272.85 L448.73,272.65 L449.16,272.45 L449.59,272.26 L450.00,272.07 L450.41,271.88 L450.80,271.70 L451.37,271.44 L451.93,271.18 L452.49,270.93 L453.03,270.70 L453.55,270.47 L454.05,270.27 L454.51,270.07 L454.94,269.90 L455.31,269.75 L455.64,269.61 L455.90,269.50" fill="none" stroke="#ababab" stroke-width="2.1" stroke-linejoin="round"/>
<line x1="423.40" y1="350.80" x2="398.09" y2="335.87" stroke="#000" stroke-width="1.8"/>
<path d="M391.20,331.80 L401.92,334.29 L398.00,335.81 L398.57,339.98 Z" fill="#000"/>
<text transform="translate(425.20,356.05)" font-size="10.7" font-weight="normal" font-style="normal" xml:space="preserve">1, 2</text>
<line x1="419.90" y1="409.50" x2="394.30" y2="394.45" stroke="#000" stroke-width="1.8"/>
<path d="M387.40,390.40 L398.12,392.88 L394.21,394.40 L394.78,398.57 Z" fill="#000"/>
<text transform="translate(424.61,415.48)" font-size="10.7" font-weight="normal" font-style="normal" xml:space="preserve">3</text>
<text transform="translate(483.96,268.96)" font-size="15" font-weight="bold" font-style="normal" xml:space="preserve">d</text>
<line x1="515.00" y1="283.70" x2="515.00" y2="450.90" stroke="#333" stroke-width="1.25"/>
<line x1="511.80" y1="450.30" x2="515.00" y2="450.30" stroke="#333" stroke-width="1.25"/>
<text transform="translate(504.64,453.64) scale(1.0,0.9)" font-size="12.1" font-weight="normal" font-style="normal" xml:space="preserve">0</text>
<line x1="511.80" y1="417.10" x2="515.00" y2="417.10" stroke="#333" stroke-width="1.25"/>
<text transform="translate(491.18,420.44) scale(1.0,0.9)" font-size="12.1" font-weight="normal" font-style="normal" xml:space="preserve">100</text>
<line x1="511.80" y1="383.90" x2="515.00" y2="383.90" stroke="#333" stroke-width="1.25"/>
<text transform="translate(491.18,387.24) scale(1.0,0.9)" font-size="12.1" font-weight="normal" font-style="normal" xml:space="preserve">200</text>
<line x1="511.80" y1="350.70" x2="515.00" y2="350.70" stroke="#333" stroke-width="1.25"/>
<text transform="translate(491.18,354.04) scale(1.0,0.9)" font-size="12.1" font-weight="normal" font-style="normal" xml:space="preserve">300</text>
<line x1="511.80" y1="317.50" x2="515.00" y2="317.50" stroke="#333" stroke-width="1.25"/>
<text transform="translate(491.18,320.84) scale(1.0,0.9)" font-size="12.1" font-weight="normal" font-style="normal" xml:space="preserve">400</text>
<line x1="511.80" y1="284.30" x2="515.00" y2="284.30" stroke="#333" stroke-width="1.25"/>
<text transform="translate(491.18,287.64) scale(1.0,0.9)" font-size="12.1" font-weight="normal" font-style="normal" xml:space="preserve">500</text>
<text transform="translate(484.66,401.60) rotate(-90)" font-size="12.2" font-weight="normal" font-style="normal" xml:space="preserve">@Current (pA)</text>
<line x1="560.72" y1="307.95" x2="560.72" y2="315.60" stroke="#000" stroke-width="1.6"/>
<line x1="545.32" y1="307.95" x2="576.12" y2="307.95" stroke="#000" stroke-width="1.6"/>
<rect x="531.05" y="315.60" width="59.35" height="95.50" fill="none" stroke="#000" stroke-width="1.6"/>
<line x1="531.05" y1="396.60" x2="590.40" y2="396.60" stroke="#000" stroke-width="1.6"/>
<line x1="560.72" y1="411.10" x2="560.72" y2="416.30" stroke="#000" stroke-width="1.6"/>
<line x1="545.32" y1="416.30" x2="576.12" y2="416.30" stroke="#000" stroke-width="1.6"/>
<line x1="650.67" y1="304.95" x2="650.67" y2="316.35" stroke="#000" stroke-width="1.6"/>
<line x1="635.22" y1="304.95" x2="666.12" y2="304.95" stroke="#000" stroke-width="1.6"/>
<rect x="621.00" y="316.35" width="59.35" height="93.45" fill="none" stroke="#000" stroke-width="1.6"/>
<line x1="621.00" y1="400.20" x2="680.35" y2="400.20" stroke="#000" stroke-width="1.6"/>
<line x1="650.67" y1="409.80" x2="650.67" y2="410.40" stroke="#000" stroke-width="1.6"/>
<line x1="635.22" y1="410.40" x2="666.12" y2="410.40" stroke="#000" stroke-width="1.6"/>
<path d="M560.4,286.3 L560.4,269.55 L651.55,269.55 L651.55,285.7" fill="none" stroke="#000" stroke-width="1.6"/>
<text transform="translate(592.53,255.30) scale(1.0,1.2)" font-size="15" font-weight="normal" font-style="normal" xml:space="preserve">n.s.</text>
<text transform="translate(549.74,456.33) rotate(-45)" font-size="12.2" font-weight="normal" font-style="italic" xml:space="preserve">Control</text>
<text transform="translate(638.83,463.40) rotate(-45)" font-size="12.2" font-weight="normal" font-style="italic" xml:space="preserve">SCH+SKF</text>
</g>
</svg>
</body></html>
